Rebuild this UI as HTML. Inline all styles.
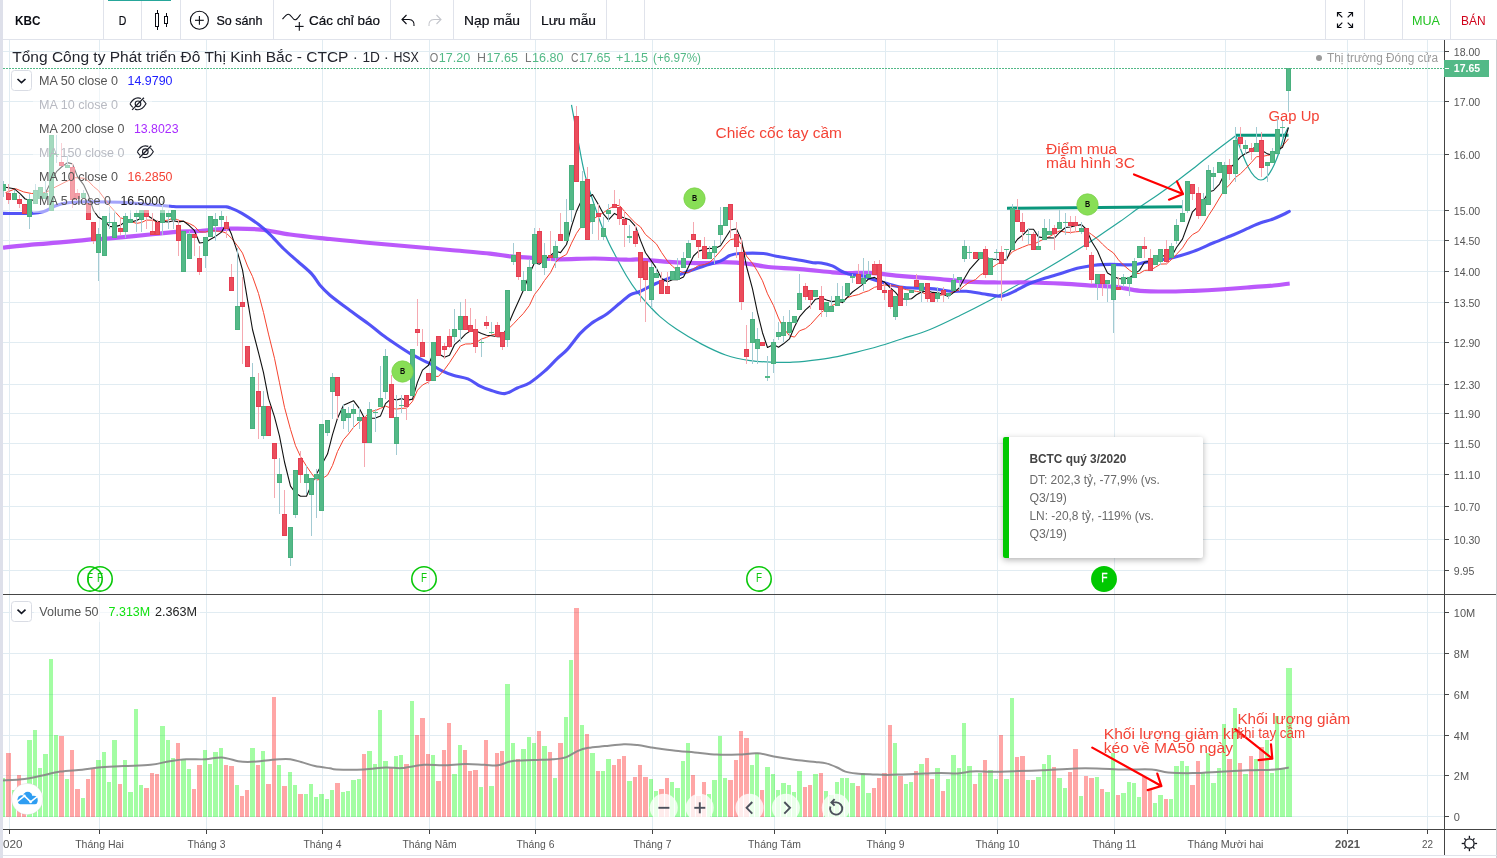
<!DOCTYPE html>
<html><head><meta charset="utf-8"><title>KBC</title>
<style>
html,body{margin:0;padding:0;background:#fff;}
body{width:1497px;height:858px;overflow:hidden;position:relative;font-family:"Liberation Sans",sans-serif;}
svg{position:absolute;left:0;top:0;font-family:"Liberation Sans",sans-serif;will-change:transform;}
.tip{position:absolute;left:1003px;top:437px;width:200px;height:121px;background:#fff;border-radius:2px;box-shadow:0 2px 6px rgba(0,0,0,.3);}
.tip i{position:absolute;left:0;top:0;bottom:0;width:6px;background:#00c800;border-radius:2px 0 0 2px;}
</style></head><body>
<svg width="1497" height="858" viewBox="0 0 1497 858">

<g stroke="#e1ecf2" stroke-width="1" shape-rendering="crispEdges">
<line x1="9.5" y1="40" x2="9.5" y2="594"/><line x1="9.5" y1="595" x2="9.5" y2="829"/>
<line x1="99.5" y1="40" x2="99.5" y2="594"/><line x1="99.5" y1="595" x2="99.5" y2="829"/>
<line x1="206.5" y1="40" x2="206.5" y2="594"/><line x1="206.5" y1="595" x2="206.5" y2="829"/>
<line x1="322.5" y1="40" x2="322.5" y2="594"/><line x1="322.5" y1="595" x2="322.5" y2="829"/>
<line x1="429.5" y1="40" x2="429.5" y2="594"/><line x1="429.5" y1="595" x2="429.5" y2="829"/>
<line x1="535.5" y1="40" x2="535.5" y2="594"/><line x1="535.5" y1="595" x2="535.5" y2="829"/>
<line x1="652.5" y1="40" x2="652.5" y2="594"/><line x1="652.5" y1="595" x2="652.5" y2="829"/>
<line x1="774.5" y1="40" x2="774.5" y2="594"/><line x1="774.5" y1="595" x2="774.5" y2="829"/>
<line x1="885.5" y1="40" x2="885.5" y2="594"/><line x1="885.5" y1="595" x2="885.5" y2="829"/>
<line x1="997.5" y1="40" x2="997.5" y2="594"/><line x1="997.5" y1="595" x2="997.5" y2="829"/>
<line x1="1114.5" y1="40" x2="1114.5" y2="594"/><line x1="1114.5" y1="595" x2="1114.5" y2="829"/>
<line x1="1225.5" y1="40" x2="1225.5" y2="594"/><line x1="1225.5" y1="595" x2="1225.5" y2="829"/>
<line x1="1347.5" y1="40" x2="1347.5" y2="594"/><line x1="1347.5" y1="595" x2="1347.5" y2="829"/>
<line x1="1427.5" y1="40" x2="1427.5" y2="594"/><line x1="1427.5" y1="595" x2="1427.5" y2="829"/>
<line x1="3" y1="51.5" x2="1444" y2="51.5"/>
<line x1="3" y1="101.5" x2="1444" y2="101.5"/>
<line x1="3" y1="154.5" x2="1444" y2="154.5"/>
<line x1="3" y1="210.5" x2="1444" y2="210.5"/>
<line x1="3" y1="240.5" x2="1444" y2="240.5"/>
<line x1="3" y1="271.5" x2="1444" y2="271.5"/>
<line x1="3" y1="302.5" x2="1444" y2="302.5"/>
<line x1="3" y1="342.5" x2="1444" y2="342.5"/>
<line x1="3" y1="384.5" x2="1444" y2="384.5"/>
<line x1="3" y1="413.5" x2="1444" y2="413.5"/>
<line x1="3" y1="443.5" x2="1444" y2="443.5"/>
<line x1="3" y1="474.5" x2="1444" y2="474.5"/>
<line x1="3" y1="506.5" x2="1444" y2="506.5"/>
<line x1="3" y1="539.5" x2="1444" y2="539.5"/>
<line x1="3" y1="570.5" x2="1444" y2="570.5"/>
<line x1="3" y1="612.5" x2="1444" y2="612.5"/>
<line x1="3" y1="653.5" x2="1444" y2="653.5"/>
<line x1="3" y1="694.5" x2="1444" y2="694.5"/>
<line x1="3" y1="735.5" x2="1444" y2="735.5"/>
<line x1="3" y1="775.5" x2="1444" y2="775.5"/>
<line x1="3" y1="816.5" x2="1444" y2="816.5"/>
</g>
<g shape-rendering="crispEdges">
<rect x="3" y="778.0" width="2" height="39.0" fill="rgb(0,250,0)" fill-opacity="0.36"/>
<rect x="6" y="753.0" width="5" height="64.0" fill="rgb(255,0,0)" fill-opacity="0.35"/>
<rect x="12" y="789.7" width="4" height="27.3" fill="rgb(0,250,0)" fill-opacity="0.36"/>
<rect x="17" y="774.9" width="4" height="42.1" fill="rgb(255,0,0)" fill-opacity="0.35"/>
<rect x="22" y="792.0" width="4" height="25.0" fill="rgb(255,0,0)" fill-opacity="0.35"/>
<rect x="27" y="740.1" width="5" height="76.9" fill="rgb(0,250,0)" fill-opacity="0.36"/>
<rect x="33" y="730.0" width="4" height="87.0" fill="rgb(0,250,0)" fill-opacity="0.36"/>
<rect x="38" y="768.0" width="4" height="49.0" fill="rgb(0,250,0)" fill-opacity="0.36"/>
<rect x="43" y="753.8" width="5" height="63.2" fill="rgb(0,250,0)" fill-opacity="0.36"/>
<rect x="49" y="658.8" width="4" height="158.2" fill="rgb(0,250,0)" fill-opacity="0.36"/>
<rect x="54" y="735.2" width="4" height="81.8" fill="rgb(0,250,0)" fill-opacity="0.36"/>
<rect x="59" y="736.0" width="5" height="81.0" fill="rgb(255,0,0)" fill-opacity="0.35"/>
<rect x="65" y="779.0" width="4" height="38.0" fill="rgb(0,250,0)" fill-opacity="0.36"/>
<rect x="70" y="750.0" width="4" height="67.0" fill="rgb(255,0,0)" fill-opacity="0.35"/>
<rect x="75" y="788.9" width="5" height="28.1" fill="rgb(255,0,0)" fill-opacity="0.35"/>
<rect x="81" y="797.6" width="4" height="19.4" fill="rgb(0,250,0)" fill-opacity="0.36"/>
<rect x="86" y="779.0" width="4" height="38.0" fill="rgb(255,0,0)" fill-opacity="0.35"/>
<rect x="91" y="768.9" width="4" height="48.1" fill="rgb(255,0,0)" fill-opacity="0.35"/>
<rect x="96" y="760.1" width="5" height="56.9" fill="rgb(0,250,0)" fill-opacity="0.36"/>
<rect x="102" y="751.9" width="4" height="65.1" fill="rgb(0,250,0)" fill-opacity="0.36"/>
<rect x="107" y="782.0" width="4" height="35.0" fill="rgb(0,250,0)" fill-opacity="0.36"/>
<rect x="112" y="740.1" width="5" height="76.9" fill="rgb(0,250,0)" fill-opacity="0.36"/>
<rect x="118" y="783.9" width="4" height="33.1" fill="rgb(255,0,0)" fill-opacity="0.35"/>
<rect x="123" y="760.1" width="4" height="56.9" fill="rgb(0,250,0)" fill-opacity="0.36"/>
<rect x="128" y="792.2" width="5" height="24.8" fill="rgb(0,250,0)" fill-opacity="0.36"/>
<rect x="134" y="708.9" width="4" height="108.1" fill="rgb(0,250,0)" fill-opacity="0.36"/>
<rect x="139" y="784.8" width="4" height="32.2" fill="rgb(0,250,0)" fill-opacity="0.36"/>
<rect x="144" y="788.0" width="5" height="29.0" fill="rgb(255,0,0)" fill-opacity="0.35"/>
<rect x="150" y="773.0" width="4" height="44.0" fill="rgb(255,0,0)" fill-opacity="0.35"/>
<rect x="155" y="773.8" width="4" height="43.2" fill="rgb(255,0,0)" fill-opacity="0.35"/>
<rect x="160" y="726.2" width="5" height="90.8" fill="rgb(0,250,0)" fill-opacity="0.36"/>
<rect x="166" y="740.1" width="4" height="76.9" fill="rgb(0,250,0)" fill-opacity="0.36"/>
<rect x="171" y="757.9" width="4" height="59.1" fill="rgb(0,250,0)" fill-opacity="0.36"/>
<rect x="176" y="743.1" width="4" height="73.9" fill="rgb(255,0,0)" fill-opacity="0.35"/>
<rect x="181" y="759.3" width="5" height="57.7" fill="rgb(0,250,0)" fill-opacity="0.36"/>
<rect x="187" y="768.9" width="4" height="48.1" fill="rgb(0,250,0)" fill-opacity="0.36"/>
<rect x="192" y="788.9" width="4" height="28.1" fill="rgb(255,0,0)" fill-opacity="0.35"/>
<rect x="197" y="765.0" width="5" height="52.0" fill="rgb(255,0,0)" fill-opacity="0.35"/>
<rect x="203" y="750.0" width="4" height="67.0" fill="rgb(0,250,0)" fill-opacity="0.36"/>
<rect x="208" y="764.0" width="4" height="53.0" fill="rgb(0,250,0)" fill-opacity="0.36"/>
<rect x="213" y="751.9" width="5" height="65.1" fill="rgb(0,250,0)" fill-opacity="0.36"/>
<rect x="219" y="748.1" width="4" height="68.9" fill="rgb(0,250,0)" fill-opacity="0.36"/>
<rect x="224" y="765.0" width="4" height="52.0" fill="rgb(255,0,0)" fill-opacity="0.35"/>
<rect x="229" y="766.1" width="5" height="50.9" fill="rgb(255,0,0)" fill-opacity="0.35"/>
<rect x="235" y="784.8" width="4" height="32.2" fill="rgb(0,250,0)" fill-opacity="0.36"/>
<rect x="240" y="796.0" width="4" height="21.0" fill="rgb(255,0,0)" fill-opacity="0.35"/>
<rect x="245" y="790.0" width="4" height="27.0" fill="rgb(255,0,0)" fill-opacity="0.35"/>
<rect x="250" y="748.1" width="5" height="68.9" fill="rgb(0,250,0)" fill-opacity="0.36"/>
<rect x="256" y="765.0" width="4" height="52.0" fill="rgb(255,0,0)" fill-opacity="0.35"/>
<rect x="261" y="751.1" width="4" height="65.9" fill="rgb(0,250,0)" fill-opacity="0.36"/>
<rect x="266" y="783.9" width="5" height="33.1" fill="rgb(255,0,0)" fill-opacity="0.35"/>
<rect x="272" y="696.9" width="4" height="120.1" fill="rgb(255,0,0)" fill-opacity="0.35"/>
<rect x="277" y="765.0" width="4" height="52.0" fill="rgb(0,250,0)" fill-opacity="0.36"/>
<rect x="282" y="785.9" width="5" height="31.1" fill="rgb(255,0,0)" fill-opacity="0.35"/>
<rect x="288" y="772.2" width="4" height="44.8" fill="rgb(0,250,0)" fill-opacity="0.36"/>
<rect x="293" y="784.8" width="4" height="32.2" fill="rgb(0,250,0)" fill-opacity="0.36"/>
<rect x="298" y="794.1" width="5" height="22.9" fill="rgb(255,0,0)" fill-opacity="0.35"/>
<rect x="304" y="794.1" width="4" height="22.9" fill="rgb(0,250,0)" fill-opacity="0.36"/>
<rect x="309" y="783.9" width="4" height="33.1" fill="rgb(0,250,0)" fill-opacity="0.36"/>
<rect x="314" y="797.1" width="4" height="19.9" fill="rgb(0,250,0)" fill-opacity="0.36"/>
<rect x="319" y="794.1" width="5" height="22.9" fill="rgb(0,250,0)" fill-opacity="0.36"/>
<rect x="325" y="799.0" width="4" height="18.0" fill="rgb(0,250,0)" fill-opacity="0.36"/>
<rect x="330" y="790.0" width="4" height="27.0" fill="rgb(0,250,0)" fill-opacity="0.36"/>
<rect x="335" y="782.8" width="5" height="34.2" fill="rgb(255,0,0)" fill-opacity="0.35"/>
<rect x="341" y="792.2" width="4" height="24.8" fill="rgb(0,250,0)" fill-opacity="0.36"/>
<rect x="346" y="791.1" width="4" height="25.9" fill="rgb(0,250,0)" fill-opacity="0.36"/>
<rect x="351" y="780.1" width="5" height="36.9" fill="rgb(0,250,0)" fill-opacity="0.36"/>
<rect x="357" y="779.0" width="4" height="38.0" fill="rgb(0,250,0)" fill-opacity="0.36"/>
<rect x="362" y="753.8" width="4" height="63.2" fill="rgb(255,0,0)" fill-opacity="0.35"/>
<rect x="367" y="751.1" width="5" height="65.9" fill="rgb(0,250,0)" fill-opacity="0.36"/>
<rect x="373" y="764.2" width="4" height="52.8" fill="rgb(0,250,0)" fill-opacity="0.36"/>
<rect x="378" y="710.0" width="4" height="107.0" fill="rgb(0,250,0)" fill-opacity="0.36"/>
<rect x="383" y="760.9" width="5" height="56.1" fill="rgb(0,250,0)" fill-opacity="0.36"/>
<rect x="389" y="768.0" width="4" height="49.0" fill="rgb(255,0,0)" fill-opacity="0.35"/>
<rect x="394" y="756.0" width="4" height="61.0" fill="rgb(0,250,0)" fill-opacity="0.36"/>
<rect x="399" y="754.9" width="4" height="62.1" fill="rgb(0,250,0)" fill-opacity="0.36"/>
<rect x="404" y="764.2" width="5" height="52.8" fill="rgb(255,0,0)" fill-opacity="0.35"/>
<rect x="410" y="701.0" width="4" height="116.0" fill="rgb(0,250,0)" fill-opacity="0.36"/>
<rect x="415" y="735.2" width="4" height="81.8" fill="rgb(255,0,0)" fill-opacity="0.35"/>
<rect x="420" y="717.9" width="5" height="99.1" fill="rgb(255,0,0)" fill-opacity="0.35"/>
<rect x="426" y="753.8" width="4" height="63.2" fill="rgb(255,0,0)" fill-opacity="0.35"/>
<rect x="431" y="755.2" width="4" height="61.8" fill="rgb(0,250,0)" fill-opacity="0.36"/>
<rect x="436" y="781.2" width="5" height="35.8" fill="rgb(255,0,0)" fill-opacity="0.35"/>
<rect x="442" y="750.0" width="4" height="67.0" fill="rgb(255,0,0)" fill-opacity="0.35"/>
<rect x="447" y="722.9" width="4" height="94.1" fill="rgb(255,0,0)" fill-opacity="0.35"/>
<rect x="452" y="773.8" width="5" height="43.2" fill="rgb(0,250,0)" fill-opacity="0.36"/>
<rect x="458" y="745.0" width="4" height="72.0" fill="rgb(0,250,0)" fill-opacity="0.36"/>
<rect x="463" y="750.0" width="4" height="67.0" fill="rgb(255,0,0)" fill-opacity="0.35"/>
<rect x="468" y="771.1" width="4" height="45.9" fill="rgb(255,0,0)" fill-opacity="0.35"/>
<rect x="473" y="770.2" width="5" height="46.8" fill="rgb(255,0,0)" fill-opacity="0.35"/>
<rect x="479" y="787.0" width="4" height="30.0" fill="rgb(0,250,0)" fill-opacity="0.36"/>
<rect x="484" y="740.1" width="4" height="76.9" fill="rgb(255,0,0)" fill-opacity="0.35"/>
<rect x="489" y="786.1" width="5" height="30.9" fill="rgb(0,250,0)" fill-opacity="0.36"/>
<rect x="495" y="753.0" width="4" height="64.0" fill="rgb(255,0,0)" fill-opacity="0.35"/>
<rect x="500" y="751.1" width="4" height="65.9" fill="rgb(255,0,0)" fill-opacity="0.35"/>
<rect x="505" y="684.0" width="5" height="133.0" fill="rgb(0,250,0)" fill-opacity="0.36"/>
<rect x="511" y="743.1" width="4" height="73.9" fill="rgb(0,250,0)" fill-opacity="0.36"/>
<rect x="516" y="759.0" width="4" height="58.0" fill="rgb(255,0,0)" fill-opacity="0.35"/>
<rect x="521" y="749.2" width="5" height="67.8" fill="rgb(0,250,0)" fill-opacity="0.36"/>
<rect x="527" y="737.1" width="4" height="79.9" fill="rgb(0,250,0)" fill-opacity="0.36"/>
<rect x="532" y="743.1" width="4" height="73.9" fill="rgb(0,250,0)" fill-opacity="0.36"/>
<rect x="537" y="731.1" width="4" height="85.9" fill="rgb(255,0,0)" fill-opacity="0.35"/>
<rect x="542" y="746.1" width="5" height="70.9" fill="rgb(0,250,0)" fill-opacity="0.36"/>
<rect x="548" y="751.9" width="4" height="65.1" fill="rgb(255,0,0)" fill-opacity="0.35"/>
<rect x="553" y="777.9" width="4" height="39.1" fill="rgb(0,250,0)" fill-opacity="0.36"/>
<rect x="558" y="743.1" width="5" height="73.9" fill="rgb(255,0,0)" fill-opacity="0.35"/>
<rect x="564" y="717.1" width="4" height="99.9" fill="rgb(0,250,0)" fill-opacity="0.36"/>
<rect x="569" y="659.9" width="4" height="157.1" fill="rgb(0,250,0)" fill-opacity="0.36"/>
<rect x="574" y="607.9" width="5" height="209.1" fill="rgb(255,0,0)" fill-opacity="0.35"/>
<rect x="580" y="725.1" width="4" height="91.9" fill="rgb(0,250,0)" fill-opacity="0.36"/>
<rect x="585" y="734.1" width="4" height="82.9" fill="rgb(255,0,0)" fill-opacity="0.35"/>
<rect x="590" y="753.0" width="5" height="64.0" fill="rgb(0,250,0)" fill-opacity="0.36"/>
<rect x="596" y="771.1" width="4" height="45.9" fill="rgb(255,0,0)" fill-opacity="0.35"/>
<rect x="601" y="771.1" width="4" height="45.9" fill="rgb(0,250,0)" fill-opacity="0.36"/>
<rect x="606" y="759.0" width="5" height="58.0" fill="rgb(0,250,0)" fill-opacity="0.36"/>
<rect x="612" y="765.0" width="4" height="52.0" fill="rgb(255,0,0)" fill-opacity="0.35"/>
<rect x="617" y="759.0" width="4" height="58.0" fill="rgb(255,0,0)" fill-opacity="0.35"/>
<rect x="622" y="756.0" width="4" height="61.0" fill="rgb(255,0,0)" fill-opacity="0.35"/>
<rect x="627" y="781.2" width="5" height="35.8" fill="rgb(0,250,0)" fill-opacity="0.36"/>
<rect x="633" y="777.1" width="4" height="39.9" fill="rgb(255,0,0)" fill-opacity="0.35"/>
<rect x="638" y="765.0" width="4" height="52.0" fill="rgb(255,0,0)" fill-opacity="0.35"/>
<rect x="643" y="777.1" width="5" height="39.9" fill="rgb(255,0,0)" fill-opacity="0.35"/>
<rect x="649" y="779.0" width="4" height="38.0" fill="rgb(0,250,0)" fill-opacity="0.36"/>
<rect x="654" y="791.1" width="4" height="25.9" fill="rgb(0,250,0)" fill-opacity="0.36"/>
<rect x="659" y="788.9" width="5" height="28.1" fill="rgb(255,0,0)" fill-opacity="0.35"/>
<rect x="665" y="777.9" width="4" height="39.1" fill="rgb(255,0,0)" fill-opacity="0.35"/>
<rect x="670" y="782.0" width="4" height="35.0" fill="rgb(0,250,0)" fill-opacity="0.36"/>
<rect x="675" y="788.0" width="5" height="29.0" fill="rgb(0,250,0)" fill-opacity="0.36"/>
<rect x="681" y="760.9" width="4" height="56.1" fill="rgb(0,250,0)" fill-opacity="0.36"/>
<rect x="686" y="743.1" width="4" height="73.9" fill="rgb(0,250,0)" fill-opacity="0.36"/>
<rect x="691" y="774.9" width="4" height="42.1" fill="rgb(255,0,0)" fill-opacity="0.35"/>
<rect x="696" y="796.0" width="5" height="21.0" fill="rgb(255,0,0)" fill-opacity="0.35"/>
<rect x="702" y="782.0" width="4" height="35.0" fill="rgb(255,0,0)" fill-opacity="0.35"/>
<rect x="707" y="794.1" width="4" height="22.9" fill="rgb(0,250,0)" fill-opacity="0.36"/>
<rect x="712" y="780.1" width="5" height="36.9" fill="rgb(0,250,0)" fill-opacity="0.36"/>
<rect x="718" y="736.0" width="4" height="81.0" fill="rgb(0,250,0)" fill-opacity="0.36"/>
<rect x="723" y="777.9" width="4" height="39.1" fill="rgb(0,250,0)" fill-opacity="0.36"/>
<rect x="728" y="780.1" width="5" height="36.9" fill="rgb(255,0,0)" fill-opacity="0.35"/>
<rect x="734" y="760.1" width="4" height="56.9" fill="rgb(255,0,0)" fill-opacity="0.35"/>
<rect x="739" y="731.1" width="4" height="85.9" fill="rgb(255,0,0)" fill-opacity="0.35"/>
<rect x="744" y="738.2" width="5" height="78.8" fill="rgb(255,0,0)" fill-opacity="0.35"/>
<rect x="750" y="765.0" width="4" height="52.0" fill="rgb(0,250,0)" fill-opacity="0.36"/>
<rect x="755" y="753.0" width="4" height="64.0" fill="rgb(0,250,0)" fill-opacity="0.36"/>
<rect x="760" y="790.0" width="4" height="27.0" fill="rgb(255,0,0)" fill-opacity="0.35"/>
<rect x="765" y="767.0" width="5" height="50.0" fill="rgb(0,250,0)" fill-opacity="0.36"/>
<rect x="771" y="774.1" width="4" height="42.9" fill="rgb(0,250,0)" fill-opacity="0.36"/>
<rect x="776" y="790.0" width="4" height="27.0" fill="rgb(0,250,0)" fill-opacity="0.36"/>
<rect x="781" y="782.8" width="5" height="34.2" fill="rgb(0,250,0)" fill-opacity="0.36"/>
<rect x="787" y="785.0" width="4" height="32.0" fill="rgb(0,250,0)" fill-opacity="0.36"/>
<rect x="792" y="792.2" width="4" height="24.8" fill="rgb(0,250,0)" fill-opacity="0.36"/>
<rect x="797" y="771.1" width="5" height="45.9" fill="rgb(0,250,0)" fill-opacity="0.36"/>
<rect x="803" y="787.0" width="4" height="30.0" fill="rgb(255,0,0)" fill-opacity="0.35"/>
<rect x="808" y="785.0" width="4" height="32.0" fill="rgb(255,0,0)" fill-opacity="0.35"/>
<rect x="813" y="774.1" width="5" height="42.9" fill="rgb(0,250,0)" fill-opacity="0.36"/>
<rect x="819" y="773.0" width="4" height="44.0" fill="rgb(255,0,0)" fill-opacity="0.35"/>
<rect x="824" y="791.1" width="4" height="25.9" fill="rgb(0,250,0)" fill-opacity="0.36"/>
<rect x="829" y="795.0" width="5" height="22.0" fill="rgb(0,250,0)" fill-opacity="0.36"/>
<rect x="835" y="782.0" width="4" height="35.0" fill="rgb(0,250,0)" fill-opacity="0.36"/>
<rect x="840" y="777.9" width="4" height="39.1" fill="rgb(0,250,0)" fill-opacity="0.36"/>
<rect x="845" y="777.9" width="4" height="39.1" fill="rgb(0,250,0)" fill-opacity="0.36"/>
<rect x="850" y="782.8" width="5" height="34.2" fill="rgb(0,250,0)" fill-opacity="0.36"/>
<rect x="856" y="786.1" width="4" height="30.9" fill="rgb(255,0,0)" fill-opacity="0.35"/>
<rect x="861" y="773.0" width="4" height="44.0" fill="rgb(0,250,0)" fill-opacity="0.36"/>
<rect x="866" y="793.0" width="5" height="24.0" fill="rgb(0,250,0)" fill-opacity="0.36"/>
<rect x="872" y="788.0" width="4" height="29.0" fill="rgb(255,0,0)" fill-opacity="0.35"/>
<rect x="877" y="777.9" width="4" height="39.1" fill="rgb(255,0,0)" fill-opacity="0.35"/>
<rect x="882" y="773.0" width="5" height="44.0" fill="rgb(255,0,0)" fill-opacity="0.35"/>
<rect x="888" y="725.1" width="4" height="91.9" fill="rgb(255,0,0)" fill-opacity="0.35"/>
<rect x="893" y="743.1" width="4" height="73.9" fill="rgb(0,250,0)" fill-opacity="0.36"/>
<rect x="898" y="776.0" width="5" height="41.0" fill="rgb(255,0,0)" fill-opacity="0.35"/>
<rect x="904" y="783.9" width="4" height="33.1" fill="rgb(0,250,0)" fill-opacity="0.36"/>
<rect x="909" y="782.0" width="4" height="35.0" fill="rgb(0,250,0)" fill-opacity="0.36"/>
<rect x="914" y="771.1" width="4" height="45.9" fill="rgb(255,0,0)" fill-opacity="0.35"/>
<rect x="919" y="764.0" width="5" height="53.0" fill="rgb(0,250,0)" fill-opacity="0.36"/>
<rect x="925" y="757.9" width="4" height="59.1" fill="rgb(255,0,0)" fill-opacity="0.35"/>
<rect x="930" y="779.0" width="4" height="38.0" fill="rgb(255,0,0)" fill-opacity="0.35"/>
<rect x="935" y="768.0" width="5" height="49.0" fill="rgb(0,250,0)" fill-opacity="0.36"/>
<rect x="941" y="791.1" width="4" height="25.9" fill="rgb(255,0,0)" fill-opacity="0.35"/>
<rect x="946" y="779.0" width="4" height="38.0" fill="rgb(0,250,0)" fill-opacity="0.36"/>
<rect x="951" y="754.9" width="5" height="62.1" fill="rgb(0,250,0)" fill-opacity="0.36"/>
<rect x="957" y="768.0" width="4" height="49.0" fill="rgb(0,250,0)" fill-opacity="0.36"/>
<rect x="962" y="722.9" width="4" height="94.1" fill="rgb(0,250,0)" fill-opacity="0.36"/>
<rect x="967" y="766.1" width="5" height="50.9" fill="rgb(0,250,0)" fill-opacity="0.36"/>
<rect x="973" y="784.0" width="4" height="33.0" fill="rgb(255,0,0)" fill-opacity="0.35"/>
<rect x="978" y="773.1" width="4" height="43.9" fill="rgb(0,250,0)" fill-opacity="0.36"/>
<rect x="983" y="760.2" width="4" height="56.8" fill="rgb(255,0,0)" fill-opacity="0.35"/>
<rect x="988" y="770.3" width="5" height="46.7" fill="rgb(0,250,0)" fill-opacity="0.36"/>
<rect x="994" y="779.1" width="4" height="37.9" fill="rgb(0,250,0)" fill-opacity="0.36"/>
<rect x="999" y="735.3" width="4" height="81.7" fill="rgb(255,0,0)" fill-opacity="0.35"/>
<rect x="1004" y="779.1" width="5" height="37.9" fill="rgb(0,250,0)" fill-opacity="0.36"/>
<rect x="1010" y="698.0" width="4" height="119.0" fill="rgb(0,250,0)" fill-opacity="0.36"/>
<rect x="1015" y="757.2" width="4" height="59.8" fill="rgb(255,0,0)" fill-opacity="0.35"/>
<rect x="1020" y="756.1" width="5" height="60.9" fill="rgb(255,0,0)" fill-opacity="0.35"/>
<rect x="1026" y="780.2" width="4" height="36.8" fill="rgb(0,250,0)" fill-opacity="0.36"/>
<rect x="1031" y="780.2" width="4" height="36.8" fill="rgb(255,0,0)" fill-opacity="0.35"/>
<rect x="1036" y="777.2" width="5" height="39.8" fill="rgb(0,250,0)" fill-opacity="0.36"/>
<rect x="1042" y="764.0" width="4" height="53.0" fill="rgb(0,250,0)" fill-opacity="0.36"/>
<rect x="1047" y="755.0" width="4" height="62.0" fill="rgb(0,250,0)" fill-opacity="0.36"/>
<rect x="1052" y="767.1" width="4" height="49.9" fill="rgb(255,0,0)" fill-opacity="0.35"/>
<rect x="1057" y="778.0" width="5" height="39.0" fill="rgb(0,250,0)" fill-opacity="0.36"/>
<rect x="1063" y="788.2" width="4" height="28.8" fill="rgb(0,250,0)" fill-opacity="0.36"/>
<rect x="1068" y="772.3" width="4" height="44.7" fill="rgb(255,0,0)" fill-opacity="0.35"/>
<rect x="1073" y="749.2" width="5" height="67.8" fill="rgb(255,0,0)" fill-opacity="0.35"/>
<rect x="1079" y="796.1" width="4" height="20.9" fill="rgb(0,250,0)" fill-opacity="0.36"/>
<rect x="1084" y="776.1" width="4" height="40.9" fill="rgb(255,0,0)" fill-opacity="0.35"/>
<rect x="1089" y="778.0" width="5" height="39.0" fill="rgb(255,0,0)" fill-opacity="0.35"/>
<rect x="1095" y="777.2" width="4" height="39.8" fill="rgb(0,250,0)" fill-opacity="0.36"/>
<rect x="1100" y="789.2" width="4" height="27.8" fill="rgb(255,0,0)" fill-opacity="0.35"/>
<rect x="1105" y="792.3" width="5" height="24.7" fill="rgb(0,250,0)" fill-opacity="0.36"/>
<rect x="1111" y="753.1" width="4" height="63.9" fill="rgb(0,250,0)" fill-opacity="0.36"/>
<rect x="1116" y="795.0" width="4" height="22.0" fill="rgb(255,0,0)" fill-opacity="0.35"/>
<rect x="1121" y="793.1" width="5" height="23.9" fill="rgb(0,250,0)" fill-opacity="0.36"/>
<rect x="1127" y="782.1" width="4" height="34.9" fill="rgb(0,250,0)" fill-opacity="0.36"/>
<rect x="1132" y="782.9" width="4" height="34.1" fill="rgb(0,250,0)" fill-opacity="0.36"/>
<rect x="1137" y="797.2" width="4" height="19.8" fill="rgb(0,250,0)" fill-opacity="0.36"/>
<rect x="1142" y="777.2" width="5" height="39.8" fill="rgb(255,0,0)" fill-opacity="0.35"/>
<rect x="1148" y="790.1" width="4" height="26.9" fill="rgb(255,0,0)" fill-opacity="0.35"/>
<rect x="1153" y="803.2" width="4" height="13.8" fill="rgb(0,250,0)" fill-opacity="0.36"/>
<rect x="1158" y="795.0" width="5" height="22.0" fill="rgb(0,250,0)" fill-opacity="0.36"/>
<rect x="1164" y="799.1" width="4" height="17.9" fill="rgb(255,0,0)" fill-opacity="0.35"/>
<rect x="1169" y="799.1" width="4" height="17.9" fill="rgb(0,250,0)" fill-opacity="0.36"/>
<rect x="1174" y="766.2" width="5" height="50.8" fill="rgb(0,250,0)" fill-opacity="0.36"/>
<rect x="1180" y="761.0" width="4" height="56.0" fill="rgb(0,250,0)" fill-opacity="0.36"/>
<rect x="1185" y="766.2" width="4" height="50.8" fill="rgb(0,250,0)" fill-opacity="0.36"/>
<rect x="1190" y="785.1" width="5" height="31.9" fill="rgb(255,0,0)" fill-opacity="0.35"/>
<rect x="1196" y="761.0" width="4" height="56.0" fill="rgb(255,0,0)" fill-opacity="0.35"/>
<rect x="1201" y="773.1" width="4" height="43.9" fill="rgb(0,250,0)" fill-opacity="0.36"/>
<rect x="1206" y="753.1" width="4" height="63.9" fill="rgb(0,250,0)" fill-opacity="0.36"/>
<rect x="1211" y="782.9" width="5" height="34.1" fill="rgb(0,250,0)" fill-opacity="0.36"/>
<rect x="1217" y="768.2" width="4" height="48.8" fill="rgb(0,250,0)" fill-opacity="0.36"/>
<rect x="1222" y="724.0" width="4" height="93.0" fill="rgb(0,250,0)" fill-opacity="0.36"/>
<rect x="1227" y="759.1" width="5" height="57.9" fill="rgb(255,0,0)" fill-opacity="0.35"/>
<rect x="1233" y="707.9" width="4" height="109.1" fill="rgb(0,250,0)" fill-opacity="0.36"/>
<rect x="1238" y="763.2" width="4" height="53.8" fill="rgb(255,0,0)" fill-opacity="0.35"/>
<rect x="1243" y="774.2" width="5" height="42.8" fill="rgb(0,250,0)" fill-opacity="0.36"/>
<rect x="1249" y="756.1" width="4" height="60.9" fill="rgb(255,0,0)" fill-opacity="0.35"/>
<rect x="1254" y="759.1" width="4" height="57.9" fill="rgb(0,250,0)" fill-opacity="0.36"/>
<rect x="1259" y="747.3" width="5" height="69.7" fill="rgb(255,0,0)" fill-opacity="0.35"/>
<rect x="1265" y="740.2" width="4" height="76.8" fill="rgb(0,250,0)" fill-opacity="0.36"/>
<rect x="1270" y="773.1" width="4" height="43.9" fill="rgb(0,250,0)" fill-opacity="0.36"/>
<rect x="1275" y="716.1" width="4" height="100.9" fill="rgb(0,250,0)" fill-opacity="0.36"/>
<rect x="1280" y="768.2" width="5" height="48.8" fill="rgb(0,250,0)" fill-opacity="0.36"/>
<rect x="1286" y="667.9" width="6" height="149.1" fill="rgb(0,250,0)" fill-opacity="0.36"/>
</g>
<path d="M2.7,780.4 C6.4,780.2 18.2,779.8 24.6,779.0 C31.0,778.2 35.1,776.9 41.0,775.7 C46.9,774.5 53.4,772.6 60.2,771.6 C67.0,770.6 75.7,770.4 82.1,769.7 C88.5,769.0 91.8,768.1 98.6,767.5 C105.4,766.9 114.5,766.6 123.2,766.1 C131.9,765.6 142.8,765.6 150.6,764.8 C158.4,764.0 163.9,762.1 169.8,761.2 C175.7,760.3 180.3,759.6 186.2,759.3 C192.1,759.0 199.5,759.6 205.4,759.3 C211.3,759.0 216.3,757.1 221.8,757.4 C227.3,757.7 233.9,760.4 238.2,761.2 C242.5,762.0 244.2,762.0 247.8,762.0 C251.5,762.0 254.9,761.7 260.1,761.2 C265.4,760.8 274.3,759.6 279.3,759.3 C284.3,759.0 286.7,758.8 290.3,759.3 C293.9,759.8 297.1,760.9 301.2,762.0 C305.3,763.1 310.1,765.1 314.9,766.1 C319.7,767.1 326.4,767.8 330.0,768.3 C333.6,768.8 330.8,769.2 336.4,769.4 C342.0,769.6 355.6,769.7 363.8,769.4 C372.0,769.1 379.3,767.7 385.7,767.5 C392.1,767.3 395.7,768.6 402.1,768.1 C408.5,767.6 417.2,765.3 424.1,764.8 C431.0,764.3 436.4,765.4 443.2,765.3 C450.0,765.2 458.2,764.1 465.1,764.0 C472.0,763.9 478.8,764.6 484.3,764.8 C489.8,765.0 493.4,765.9 498.0,765.3 C502.6,764.7 505.8,762.1 511.7,761.2 C517.6,760.3 526.8,760.4 533.6,760.1 C540.4,759.8 547.2,759.8 552.7,759.3 C558.2,758.8 562.3,758.5 566.4,757.1 C570.5,755.7 573.8,752.7 577.4,751.1 C581.0,749.5 583.7,748.6 588.3,747.8 C592.9,747.0 598.9,746.7 604.8,746.1 C610.7,745.5 618.4,744.4 623.9,744.2 C629.4,744.0 633.2,744.5 637.6,745.0 C642.0,745.5 646.9,746.7 650.0,747.2 C653.1,747.8 651.7,747.6 656.4,748.3 C661.1,748.9 671.9,750.4 678.3,751.1 C684.7,751.8 688.4,751.8 694.8,752.4 C701.2,753.0 709.4,754.2 716.7,754.6 C724.0,755.0 731.8,754.8 738.6,754.6 C745.4,754.4 751.3,752.9 757.7,753.3 C764.1,753.7 770.5,756.0 776.9,757.1 C783.3,758.2 789.7,759.3 796.1,760.1 C802.5,760.9 810.3,761.5 815.3,762.0 C820.3,762.5 822.6,762.5 826.2,763.4 C829.9,764.3 834.0,766.1 837.2,767.5 C840.4,768.9 842.2,770.6 845.4,771.6 C848.6,772.6 851.8,773.0 856.3,773.5 C860.8,774.0 867.7,774.2 872.7,774.4 C877.7,774.6 881.4,774.9 886.4,774.9 C891.4,774.9 896.5,774.6 902.9,774.4 C909.3,774.2 918.4,773.7 924.8,773.5 C931.2,773.3 935.7,773.0 941.2,773.0 C946.7,773.0 952.8,773.7 957.6,773.5 C962.4,773.3 966.9,772.0 970.0,771.6 C973.1,771.2 972.1,771.2 976.4,771.2 C980.7,771.2 989.2,771.7 995.6,771.7 C1002.0,771.7 1007.0,771.4 1014.8,771.2 C1022.6,771.0 1032.2,770.8 1042.2,770.3 C1052.2,769.8 1066.0,768.7 1075.1,768.4 C1084.2,768.1 1088.8,768.2 1097.0,768.4 C1105.2,768.6 1115.3,769.3 1124.4,769.5 C1133.5,769.7 1144.5,769.0 1151.8,769.5 C1159.1,770.0 1161.3,771.9 1168.2,772.5 C1175.1,773.1 1184.2,773.2 1192.9,773.1 C1201.6,773.0 1211.2,772.2 1220.3,771.7 C1229.4,771.2 1238.6,770.7 1247.7,770.3 C1256.8,769.9 1268.2,770.0 1275.1,769.5 C1281.9,769.0 1286.5,767.9 1288.8,767.6" fill="none" stroke="#858585" stroke-width="2" stroke-opacity="0.9"/>
<path d="M571.5,104.8 C572.6,110.7 575.7,128.2 578.0,140.0 C580.3,151.8 581.8,162.8 585.2,175.7 C588.6,188.6 594.8,206.6 598.5,217.3 C602.2,228.0 604.6,233.4 607.5,240.0 C610.4,246.6 612.9,250.9 616.0,256.8 C619.1,262.8 622.9,269.9 626.4,275.7 C629.9,281.5 633.0,286.3 636.9,291.4 C640.8,296.5 645.6,301.9 649.5,306.1 C653.4,310.3 655.5,312.7 660.0,316.6 C664.5,320.5 669.8,324.8 676.7,329.3 C683.6,333.9 693.1,339.6 701.2,343.9 C709.4,348.2 717.5,352.2 725.6,355.0 C733.8,357.8 741.9,359.4 750.1,360.6 C758.3,361.8 768.0,362.0 774.6,362.3 C781.2,362.6 785.0,362.5 790.0,362.3 C795.0,362.1 798.0,362.1 804.5,361.4 C811.0,360.7 820.9,359.6 829.0,358.2 C837.1,356.8 845.2,354.8 853.4,352.9 C861.5,350.9 869.8,348.9 877.9,346.5 C886.0,344.1 893.6,341.5 902.3,338.7 C911.0,335.9 920.4,333.4 930.0,329.5 C939.6,325.6 950.0,320.4 960.0,315.5 C970.0,310.6 980.0,305.5 990.0,300.2 C1000.0,294.9 1010.0,289.1 1020.0,283.5 C1030.0,277.9 1039.3,272.8 1050.0,266.5 C1060.7,260.2 1075.7,251.0 1084.0,245.8 C1092.3,240.6 1094.0,239.2 1100.0,235.2 C1106.0,231.2 1113.3,226.3 1120.0,221.6 C1126.7,216.9 1133.7,211.5 1140.0,207.0 C1146.3,202.5 1151.6,199.3 1158.0,194.8 C1164.4,190.3 1173.0,184.0 1178.3,180.0 C1183.6,176.0 1184.7,175.1 1190.0,171.0 C1195.3,166.9 1202.3,161.2 1210.0,155.3 C1217.7,149.4 1231.7,138.7 1236.0,135.4" fill="none" stroke="#26a69a" stroke-width="1.2"/>
<line x1="1007" y1="208.2" x2="1182" y2="206.8" stroke="#0a977c" stroke-width="3"/>
<line x1="1235.5" y1="135.3" x2="1288.5" y2="135.3" stroke="#0a977c" stroke-width="3"/>
<path d="M1236,136 C1244,160 1252,180 1261,180 C1270,180 1279,155 1283.5,137 L1288,127.5" fill="none" stroke="#26a69a" stroke-width="1.2"/>
<path d="M3.0,247.7 C7.8,247.2 21.5,245.5 31.5,244.6 C41.5,243.7 53.7,243.0 62.9,242.2 C72.1,241.4 78.7,240.6 86.5,239.9 C94.3,239.2 99.4,239.2 110.0,238.3 C120.6,237.4 138.3,235.6 150.0,234.5 C161.7,233.4 171.7,232.2 180.0,231.6 C188.3,231.0 191.8,231.5 200.0,231.0 C208.2,230.5 218.9,228.9 229.0,228.7 C239.1,228.5 250.5,228.6 260.7,229.6 C270.9,230.6 278.4,232.9 290.0,234.5 C301.6,236.1 316.7,237.6 330.0,239.0 C343.3,240.4 356.7,241.8 370.0,243.0 C383.3,244.2 396.7,245.3 410.0,246.5 C423.3,247.7 436.7,248.8 450.0,250.0 C463.3,251.2 479.8,252.5 490.0,253.6 C500.2,254.7 504.0,255.7 511.0,256.4 C518.0,257.1 524.0,257.3 532.0,257.8 C540.0,258.3 548.5,259.2 559.0,259.3 C569.5,259.4 583.8,258.4 595.0,258.5 C606.2,258.6 618.9,259.5 626.4,259.7 C633.9,259.9 632.4,259.1 640.0,259.5 C647.6,259.9 661.3,261.6 672.0,262.2 C682.7,262.8 696.1,263.2 704.1,263.2 C712.1,263.2 714.9,262.3 720.2,262.2 C725.6,262.1 730.9,262.3 736.2,262.7 C741.5,263.1 746.9,263.6 752.2,264.3 C757.6,265.0 760.3,266.2 768.3,267.0 C776.3,267.8 789.6,268.2 800.3,269.1 C811.0,270.0 824.4,271.6 832.4,272.3 C840.4,273.0 842.1,273.0 848.4,273.1 C854.7,273.2 861.0,272.4 870.0,272.9 C879.0,273.4 891.4,275.2 902.1,276.1 C912.8,277.0 923.4,277.6 934.1,278.5 C944.8,279.4 955.5,281.0 966.2,281.7 C976.9,282.4 987.6,282.4 998.3,282.5 C1009.0,282.6 1019.6,282.3 1030.3,282.5 C1041.0,282.7 1051.7,283.1 1062.4,283.6 C1073.1,284.1 1086.6,285.2 1094.5,285.7 C1102.4,286.2 1105.8,286.2 1110.0,286.5 C1114.2,286.8 1115.0,286.8 1120.0,287.5 C1125.0,288.2 1132.3,290.1 1140.1,290.8 C1147.9,291.5 1157.9,291.5 1166.8,291.5 C1175.7,291.5 1184.6,291.1 1193.5,290.8 C1202.4,290.5 1211.3,290.1 1220.2,289.5 C1229.1,288.9 1238.1,288.2 1247.0,287.5 C1255.9,286.8 1266.6,286.2 1273.7,285.5 C1280.8,284.8 1287.0,283.8 1289.7,283.5" fill="none" stroke="#b750fb" stroke-width="4.2" stroke-linecap="butt" stroke-opacity="0.95"/>
<path d="M3.0,213.4 C7.8,213.4 24.7,213.7 31.5,213.4 C38.3,213.1 40.1,212.7 44.0,211.5 C47.9,210.3 51.3,207.4 55.0,206.0 C58.7,204.6 60.8,203.7 66.0,203.0 C71.2,202.3 77.5,201.9 86.5,201.8 C95.5,201.7 109.4,201.9 120.0,202.3 C130.6,202.8 141.6,203.8 150.0,204.5 C158.4,205.2 165.5,205.8 170.5,206.2 C175.5,206.6 172.6,206.7 180.0,206.8 C187.4,206.9 207.4,206.7 215.0,206.7 C222.6,206.7 223.0,206.6 225.5,206.8 C228.0,207.0 227.2,206.7 230.0,207.8 C232.8,208.9 237.2,210.5 242.0,213.3 C246.8,216.1 254.0,221.0 258.7,224.5 C263.3,228.0 265.7,230.2 269.9,234.3 C274.1,238.4 279.2,244.5 283.9,249.0 C288.6,253.5 293.2,257.3 297.9,261.5 C302.6,265.7 308.2,270.1 311.9,274.1 C315.6,278.1 317.0,281.8 320.0,285.3 C323.0,288.8 325.0,291.0 330.0,295.2 C335.0,299.4 343.3,305.5 350.0,310.5 C356.7,315.5 364.6,320.9 370.0,325.0 C375.4,329.1 378.1,331.7 382.2,334.8 C386.3,337.9 389.6,340.1 394.5,343.4 C399.4,346.7 405.9,351.1 411.6,354.4 C417.3,357.7 423.8,360.4 428.7,363.0 C433.6,365.6 436.9,368.3 441.0,370.3 C445.1,372.3 448.7,373.8 453.2,375.2 C457.7,376.6 463.4,377.1 467.9,378.9 C472.4,380.7 476.4,384.3 480.1,386.2 C483.8,388.1 485.9,388.8 490.0,390.0 C494.1,391.2 500.1,393.9 504.7,393.6 C509.2,393.3 513.1,389.8 517.3,388.0 C521.5,386.2 525.3,385.5 529.9,382.7 C534.5,379.9 540.0,375.2 544.6,371.2 C549.2,367.2 553.4,362.3 557.2,358.6 C561.0,354.9 563.8,353.3 567.6,349.1 C571.4,344.9 576.4,337.6 580.2,333.4 C584.1,329.2 586.2,327.2 590.7,323.9 C595.2,320.6 602.6,317.0 607.5,313.5 C612.4,310.0 616.2,306.1 620.1,303.0 C624.0,299.9 627.3,296.5 630.6,294.6 C633.9,292.7 635.8,293.4 640.0,291.5 C644.2,289.6 650.7,285.9 656.0,283.5 C661.3,281.1 666.6,279.1 672.0,277.1 C677.4,275.1 682.8,273.4 688.1,271.5 C693.5,269.6 698.8,267.6 704.1,265.9 C709.5,264.2 715.9,262.8 720.2,261.1 C724.5,259.4 726.6,256.8 729.8,255.5 C733.0,254.2 733.8,253.8 739.4,253.5 C745.0,253.2 757.2,253.0 763.4,253.5 C769.5,254.0 770.1,255.2 776.3,256.3 C782.4,257.4 794.2,259.2 800.3,260.3 C806.4,261.4 809.6,262.2 813.1,262.7 C816.6,263.1 818.0,262.5 821.2,263.0 C824.4,263.5 828.9,264.5 832.4,265.9 C835.9,267.3 839.3,270.2 842.0,271.5 C844.7,272.8 844.7,273.1 848.4,273.9 C852.1,274.7 860.8,275.5 864.4,276.3 C868.0,277.1 866.4,277.3 870.0,278.5 C873.6,279.7 880.6,281.8 886.0,283.3 C891.4,284.8 896.8,286.5 902.1,287.3 C907.5,288.1 912.8,287.8 918.1,288.1 C923.4,288.4 928.8,288.4 934.1,288.9 C939.5,289.4 944.9,290.9 950.2,291.3 C955.6,291.7 960.9,290.9 966.2,291.3 C971.5,291.7 976.9,292.9 982.2,293.7 C987.6,294.5 994.5,295.8 998.3,296.1 C1002.0,296.4 1002.0,296.1 1004.7,295.3 C1007.4,294.5 1010.0,293.3 1014.3,291.3 C1018.6,289.3 1024.9,285.6 1030.3,283.3 C1035.7,281.0 1041.1,279.4 1046.4,277.7 C1051.8,276.0 1057.1,274.5 1062.4,272.9 C1067.7,271.3 1073.1,269.4 1078.4,268.1 C1083.8,266.8 1089.2,265.8 1094.5,265.2 C1099.8,264.6 1103.8,264.5 1110.0,264.4 C1116.2,264.3 1125.9,265.2 1132.0,264.8 C1138.1,264.4 1139.9,263.3 1146.8,262.1 C1153.7,260.9 1165.7,259.2 1173.5,257.4 C1181.3,255.6 1186.8,253.8 1193.5,251.4 C1200.2,249.0 1206.9,245.6 1213.6,242.8 C1220.3,240.0 1228.0,237.0 1233.6,234.7 C1239.2,232.3 1243.0,230.5 1247.0,228.7 C1251.0,226.9 1253.1,225.7 1257.6,224.0 C1262.0,222.3 1269.2,220.4 1273.7,218.7 C1278.2,217.0 1281.8,215.2 1284.4,214.0 C1287.0,212.8 1288.5,211.8 1289.3,211.4" fill="none" stroke="#4a4af7" stroke-width="3.1" stroke-linecap="round" stroke-opacity="0.95"/>
<path d="M5.5,192.7 L15.7,188.7 L23.6,191.9 L31.5,193.5 L45.6,192.7 L55.1,187.2 L66.1,181.6 L75.5,177.7 L83.5,178.2 L88.5,181.2 L93.5,186.5 L98.5,190.6 L104.5,198.7 L109.5,205.5 L114.5,211.1 L120.5,217.8 L125.5,219.4 L130.5,221.4 L136.5,223.4 L141.5,222.5 L146.5,220.1 L152.5,220.2 L157.5,222.1 L162.5,220.9 L168.5,220.0 L173.5,217.9 L178.5,220.3 L183.5,221.5 L189.5,223.6 L194.5,226.3 L199.5,231.8 L205.5,232.1 L210.5,230.2 L215.5,231.1 L221.5,231.4 L226.5,233.3 L231.5,238.3 L237.5,245.8 L242.5,253.1 L247.5,266.0 L252.5,276.5 L258.5,293.5 L263.5,312.5 L268.5,334.1 L274.5,358.3 L279.5,382.8 L284.5,407.3 L290.5,429.4 L295.5,445.7 L300.5,456.5 L306.5,466.2 L311.5,473.4 L316.5,480.1 L321.5,479.0 L327.5,475.2 L332.5,465.4 L337.5,451.5 L343.5,439.7 L348.5,434.0 L353.5,427.4 L359.5,421.7 L364.5,418.2 L369.5,411.7 L375.5,410.5 L380.5,408.3 L385.5,406.1 L391.5,408.3 L396.5,409.1 L401.5,408.4 L406.5,408.1 L412.5,401.3 L417.5,390.2 L422.5,385.0 L428.5,381.9 L433.5,376.4 L438.5,376.4 L444.5,369.6 L449.5,362.7 L454.5,355.0 L460.5,345.9 L465.5,344.0 L470.5,343.9 L475.5,343.0 L481.5,339.0 L486.5,337.4 L491.5,335.0 L497.5,333.7 L502.5,333.7 L507.5,329.8 L513.5,323.8 L518.5,318.5 L523.5,313.3 L529.5,305.3 L534.5,294.5 L539.5,288.2 L544.5,280.5 L550.5,272.7 L555.5,262.6 L560.5,257.7 L566.5,254.4 L571.5,243.2 L576.5,233.3 L582.5,224.7 L587.5,225.3 L592.5,219.5 L598.5,215.7 L603.5,212.6 L608.5,209.0 L614.5,205.7 L619.5,205.4 L624.5,211.4 L629.5,216.9 L635.5,223.2 L640.5,226.9 L645.5,234.5 L651.5,239.6 L656.5,244.1 L661.5,252.4 L667.5,261.1 L672.5,266.3 L677.5,270.4 L683.5,272.6 L688.5,272.6 L693.5,268.9 L698.5,265.5 L704.5,264.6 L709.5,262.5 L714.5,257.8 L720.5,250.9 L725.5,244.5 L730.5,239.7 L736.5,238.5 L741.5,244.5 L746.5,256.1 L752.5,263.4 L757.5,271.4 L762.5,280.8 L767.5,293.8 L773.5,305.6 L778.5,318.0 L783.5,328.2 L789.5,335.8 L794.5,337.1 L799.5,330.8 L805.5,328.6 L810.5,324.6 L815.5,319.0 L821.5,312.4 L826.5,308.4 L831.5,305.7 L837.5,303.2 L842.5,300.9 L847.5,297.6 L852.5,295.9 L858.5,294.6 L863.5,292.4 L868.5,290.8 L874.5,287.3 L879.5,286.1 L884.5,284.9 L890.5,285.9 L895.5,285.7 L900.5,288.0 L906.5,289.7 L911.5,290.4 L916.5,291.4 L921.5,292.3 L927.5,294.7 L932.5,295.9 L937.5,295.8 L943.5,294.6 L948.5,294.3 L953.5,291.6 L959.5,290.0 L964.5,285.6 L969.5,282.1 L975.5,279.6 L980.5,274.9 L985.5,272.2 L990.5,268.7 L996.5,264.5 L1001.5,261.6 L1006.5,258.5 L1012.5,251.7 L1017.5,249.3 L1022.5,247.2 L1028.5,244.8 L1033.5,244.5 L1038.5,241.7 L1044.5,238.7 L1049.5,236.6 L1054.5,233.6 L1059.5,230.9 L1065.5,232.2 L1070.5,232.5 L1075.5,231.8 L1081.5,231.3 L1086.5,231.0 L1091.5,234.4 L1097.5,239.0 L1102.5,244.2 L1107.5,248.8 L1113.5,253.0 L1118.5,259.9 L1123.5,265.1 L1129.5,270.2 L1134.5,273.5 L1139.5,273.5 L1144.5,270.4 L1150.5,270.1 L1155.5,267.2 L1160.5,264.1 L1166.5,263.9 L1171.5,259.5 L1176.5,254.3 L1182.5,247.9 L1187.5,239.9 L1192.5,234.6 L1198.5,231.3 L1203.5,224.1 L1208.5,215.6 L1213.5,208.0 L1219.5,198.0 L1224.5,189.8 L1229.5,184.8 L1235.5,177.4 L1240.5,173.7 L1245.5,168.8 L1251.5,162.3 L1256.5,156.7 L1261.5,156.5 L1267.5,155.4 L1272.5,154.3 L1277.5,150.7 L1282.5,146.0 L1288.5,138.8" fill="none" stroke="#f5432f" stroke-width="1.0" stroke-linejoin="round"/>
<path d="M5.5,187.2 L14.2,188.7 L20.5,194.2 L25.2,199.0 L31.5,200.5 L38.0,198.0 L45.6,192.7 L51.5,180.8 L56.5,171.7 L61.5,167.0 L67.5,162.6 L72.5,163.9 L77.5,176.7 L83.5,184.6 L88.5,195.3 L93.5,210.5 L98.5,217.3 L104.5,220.7 L109.5,226.4 L114.5,226.9 L120.5,225.1 L125.5,221.5 L130.5,222.1 L136.5,220.5 L141.5,218.1 L146.5,215.0 L152.5,218.8 L157.5,222.0 L162.5,221.4 L168.5,222.0 L173.5,220.7 L178.5,221.9 L183.5,221.1 L189.5,225.8 L194.5,230.7 L199.5,243.0 L205.5,242.3 L210.5,239.3 L215.5,236.4 L221.5,232.1 L226.5,223.5 L231.5,234.3 L237.5,252.3 L242.5,269.8 L247.5,299.9 L252.5,329.5 L258.5,352.6 L263.5,372.6 L268.5,398.4 L274.5,416.8 L279.5,436.2 L284.5,462.0 L290.5,486.2 L295.5,493.0 L300.5,496.2 L306.5,496.2 L311.5,484.7 L316.5,474.1 L321.5,465.0 L327.5,454.1 L332.5,434.7 L337.5,418.2 L343.5,405.2 L348.5,402.9 L353.5,400.7 L359.5,408.7 L364.5,418.2 L369.5,418.2 L375.5,418.1 L380.5,415.9 L385.5,403.6 L391.5,398.4 L396.5,400.0 L401.5,398.6 L406.5,400.4 L412.5,399.1 L417.5,382.1 L422.5,370.1 L428.5,365.3 L433.5,352.4 L438.5,353.8 L444.5,357.2 L449.5,355.2 L454.5,344.7 L460.5,339.4 L465.5,334.1 L470.5,330.7 L475.5,330.7 L481.5,333.4 L486.5,335.3 L491.5,335.8 L497.5,336.7 L502.5,336.7 L507.5,326.3 L513.5,312.2 L518.5,301.2 L523.5,290.0 L529.5,274.0 L534.5,262.8 L539.5,264.2 L544.5,259.8 L550.5,255.5 L555.5,251.3 L560.5,252.6 L566.5,244.5 L571.5,226.5 L576.5,211.2 L582.5,198.2 L587.5,198.1 L592.5,194.5 L598.5,204.8 L603.5,214.1 L608.5,219.9 L614.5,213.4 L619.5,216.3 L624.5,218.1 L629.5,219.7 L635.5,226.4 L640.5,240.4 L645.5,252.7 L651.5,261.1 L656.5,268.4 L661.5,278.4 L667.5,281.7 L672.5,279.8 L677.5,279.8 L683.5,276.9 L688.5,266.7 L693.5,256.0 L698.5,251.1 L704.5,249.4 L709.5,248.2 L714.5,248.8 L720.5,245.7 L725.5,237.8 L730.5,230.0 L736.5,228.9 L741.5,240.1 L746.5,266.5 L752.5,288.9 L757.5,312.7 L762.5,332.7 L767.5,347.5 L773.5,344.6 L778.5,347.2 L783.5,343.8 L789.5,338.8 L794.5,326.8 L799.5,316.9 L805.5,309.9 L810.5,305.5 L815.5,299.2 L821.5,297.9 L826.5,299.9 L831.5,301.6 L837.5,300.9 L842.5,302.6 L847.5,297.2 L852.5,292.0 L858.5,287.6 L863.5,283.9 L868.5,279.0 L874.5,277.4 L879.5,280.2 L884.5,282.1 L890.5,288.0 L895.5,292.4 L900.5,298.7 L906.5,299.3 L911.5,298.7 L916.5,294.8 L921.5,292.1 L927.5,290.7 L932.5,292.4 L937.5,292.9 L943.5,294.4 L948.5,296.4 L953.5,292.6 L959.5,287.6 L964.5,278.3 L969.5,269.7 L975.5,262.8 L980.5,257.3 L985.5,256.8 L990.5,259.2 L996.5,259.2 L1001.5,260.4 L1006.5,259.7 L1012.5,246.5 L1017.5,239.3 L1022.5,235.3 L1028.5,229.2 L1033.5,229.3 L1038.5,236.9 L1044.5,238.0 L1049.5,237.9 L1054.5,238.0 L1059.5,232.5 L1065.5,227.5 L1070.5,227.0 L1075.5,225.8 L1081.5,224.6 L1086.5,229.5 L1091.5,241.3 L1097.5,251.0 L1102.5,262.7 L1107.5,273.1 L1113.5,276.6 L1118.5,278.5 L1123.5,279.1 L1129.5,277.7 L1134.5,273.9 L1139.5,270.4 L1144.5,262.2 L1150.5,261.1 L1155.5,256.7 L1160.5,254.3 L1166.5,257.5 L1171.5,256.8 L1176.5,247.5 L1182.5,239.1 L1187.5,225.5 L1192.5,211.8 L1198.5,205.8 L1203.5,200.8 L1208.5,192.1 L1213.5,190.4 L1219.5,184.1 L1224.5,173.9 L1229.5,168.7 L1235.5,162.7 L1240.5,156.9 L1245.5,153.5 L1251.5,150.8 L1256.5,144.7 L1261.5,150.2 L1267.5,153.9 L1272.5,155.1 L1277.5,150.6 L1282.5,147.3 L1288.5,127.5" fill="none" stroke="#111" stroke-width="1.1" stroke-linejoin="round"/>
<path d="M1134,174.5 L1183,194 M1177,181.5 L1183,194 L1169,199.7" fill="none" stroke="#ff0000" stroke-width="2.2" stroke-linecap="round" stroke-linejoin="round"/>
<path d="M1092.3,747.6 L1161.4,786 M1157.3,773.6 L1161.4,786 L1147.7,790.1" fill="none" stroke="#ff0000" stroke-width="2.2" stroke-linecap="round" stroke-linejoin="round"/>
<path d="M1235.3,729.2 L1272.3,758.6 M1271,744.3 L1272.3,758.6 L1258.6,760.2" fill="none" stroke="#ff0000" stroke-width="2.2" stroke-linecap="round" stroke-linejoin="round"/>
<text x="715.5" y="137.8" font-size="14" fill="#f44336" font-weight="normal" text-anchor="start" textLength="126.4" lengthAdjust="spacingAndGlyphs">Chiếc cốc tay cầm</text>
<text x="1046" y="154" font-size="14" fill="#f44336" font-weight="normal" text-anchor="start" textLength="71" lengthAdjust="spacingAndGlyphs">Điểm mua</text>
<text x="1046" y="168" font-size="14" fill="#f44336" font-weight="normal" text-anchor="start" textLength="89" lengthAdjust="spacingAndGlyphs">mẫu hình 3C</text>
<text x="1268.6" y="120.7" font-size="14" fill="#f44336" font-weight="normal" text-anchor="start" textLength="51" lengthAdjust="spacingAndGlyphs">Gap Up</text>
<text x="1103.8" y="739.4" font-size="14" fill="#f44336" font-weight="normal" text-anchor="start" textLength="139.2" lengthAdjust="spacingAndGlyphs">Khối lượng giảm khi</text>
<text x="1103.8" y="753.4" font-size="14" fill="#f44336" font-weight="normal" text-anchor="start" textLength="129.2" lengthAdjust="spacingAndGlyphs">kéo về MA50 ngày</text>
<text x="1237.4" y="723.5" font-size="14" fill="#f44336" font-weight="normal" text-anchor="start" textLength="112.8" lengthAdjust="spacingAndGlyphs">Khối lượng giảm</text>
<text x="1237.4" y="737.5" font-size="14" fill="#f44336" font-weight="normal" text-anchor="start" textLength="67.7" lengthAdjust="spacingAndGlyphs">khi tay cầm</text>
<g shape-rendering="crispEdges">
<rect x="3" y="181" width="1" height="16" fill="#a3cbd3"/>
<rect x="3" y="184" width="3" height="7" fill="#53b987"/>
<rect x="8" y="184" width="1" height="20" fill="#f5a9b1"/>
<rect x="6" y="193" width="5" height="7" fill="#eb4d5c"/>
<path d="M6.5,193.5h4v6h-4z" fill="none" stroke="#e33a4f" stroke-width="1" stroke-opacity="0.75"/>
<rect x="14" y="190" width="1" height="10" fill="#a3cbd3"/>
<rect x="12" y="193" width="5" height="7" fill="#53b987"/>
<path d="M12.5,193.5h4v6h-4z" fill="none" stroke="#45ae7b" stroke-width="1" stroke-opacity="0.75"/>
<rect x="19" y="195" width="1" height="13" fill="#f5a9b1"/>
<rect x="17" y="199" width="5" height="5" fill="#eb4d5c"/>
<path d="M17.5,199.5h4v4h-4z" fill="none" stroke="#e33a4f" stroke-width="1" stroke-opacity="0.75"/>
<rect x="24" y="204" width="1" height="10" fill="#f5a9b1"/>
<rect x="22" y="204" width="5" height="10" fill="#eb4d5c"/>
<path d="M22.5,204.5h4v9h-4z" fill="none" stroke="#e33a4f" stroke-width="1" stroke-opacity="0.75"/>
<rect x="29" y="194" width="1" height="35" fill="#a3cbd3"/>
<rect x="27" y="199" width="5" height="18" fill="#53b987"/>
<path d="M27.5,199.5h4v17h-4z" fill="none" stroke="#45ae7b" stroke-width="1" stroke-opacity="0.75"/>
<rect x="35" y="184" width="1" height="20" fill="#a3cbd3"/>
<rect x="33" y="190" width="5" height="14" fill="#53b987"/>
<path d="M33.5,190.5h4v13h-4z" fill="none" stroke="#45ae7b" stroke-width="1" stroke-opacity="0.75"/>
<rect x="40" y="187" width="1" height="12" fill="#a3cbd3"/>
<rect x="38" y="187" width="5" height="12" fill="#53b987"/>
<path d="M38.5,187.5h4v11h-4z" fill="none" stroke="#45ae7b" stroke-width="1" stroke-opacity="0.75"/>
<rect x="45" y="181" width="1" height="18" fill="#a3cbd3"/>
<rect x="43" y="193" width="5" height="6" fill="#53b987"/>
<path d="M43.5,193.5h4v5h-4z" fill="none" stroke="#45ae7b" stroke-width="1" stroke-opacity="0.75"/>
<rect x="51" y="135" width="1" height="76" fill="#a3cbd3"/>
<rect x="49" y="135" width="5" height="76" fill="#53b987"/>
<path d="M49.5,135.5h4v75h-4z" fill="none" stroke="#45ae7b" stroke-width="1" stroke-opacity="0.75"/>
<rect x="56" y="135" width="1" height="28" fill="#a3cbd3"/>
<rect x="54" y="154" width="5" height="1" fill="#53b987"/>
<rect x="61" y="143" width="1" height="23" fill="#f5a9b1"/>
<rect x="59" y="162" width="5" height="4" fill="#eb4d5c"/>
<path d="M59.5,162.5h4v3h-4z" fill="none" stroke="#e33a4f" stroke-width="1" stroke-opacity="0.75"/>
<rect x="67" y="156" width="1" height="12" fill="#a3cbd3"/>
<rect x="65" y="165" width="5" height="3" fill="#53b987"/>
<path d="M65.5,165.5h4v2h-4z" fill="none" stroke="#45ae7b" stroke-width="1" stroke-opacity="0.75"/>
<rect x="72" y="163" width="1" height="45" fill="#f5a9b1"/>
<rect x="70" y="167" width="5" height="33" fill="#eb4d5c"/>
<path d="M70.5,167.5h4v32h-4z" fill="none" stroke="#e33a4f" stroke-width="1" stroke-opacity="0.75"/>
<rect x="77" y="189" width="1" height="10" fill="#f5a9b1"/>
<rect x="75" y="193" width="5" height="6" fill="#eb4d5c"/>
<path d="M75.5,193.5h4v5h-4z" fill="none" stroke="#e33a4f" stroke-width="1" stroke-opacity="0.75"/>
<rect x="83" y="190" width="1" height="8" fill="#a3cbd3"/>
<rect x="81" y="193" width="5" height="5" fill="#53b987"/>
<path d="M81.5,193.5h4v4h-4z" fill="none" stroke="#45ae7b" stroke-width="1" stroke-opacity="0.75"/>
<rect x="88" y="203" width="1" height="17" fill="#f5a9b1"/>
<rect x="86" y="203" width="5" height="17" fill="#eb4d5c"/>
<path d="M86.5,203.5h4v16h-4z" fill="none" stroke="#e33a4f" stroke-width="1" stroke-opacity="0.75"/>
<rect x="93" y="222" width="1" height="22" fill="#f5a9b1"/>
<rect x="91" y="222" width="5" height="19" fill="#eb4d5c"/>
<path d="M91.5,222.5h4v18h-4z" fill="none" stroke="#e33a4f" stroke-width="1" stroke-opacity="0.75"/>
<rect x="98" y="228" width="1" height="53" fill="#a3cbd3"/>
<rect x="96" y="234" width="5" height="19" fill="#53b987"/>
<path d="M96.5,234.5h4v18h-4z" fill="none" stroke="#45ae7b" stroke-width="1" stroke-opacity="0.75"/>
<rect x="104" y="216" width="1" height="40" fill="#a3cbd3"/>
<rect x="102" y="216" width="5" height="40" fill="#53b987"/>
<path d="M102.5,216.5h4v39h-4z" fill="none" stroke="#45ae7b" stroke-width="1" stroke-opacity="0.75"/>
<rect x="109" y="207" width="1" height="22" fill="#a3cbd3"/>
<rect x="107" y="222" width="5" height="1" fill="#53b987"/>
<rect x="114" y="210" width="1" height="28" fill="#a3cbd3"/>
<rect x="112" y="222" width="5" height="16" fill="#53b987"/>
<path d="M112.5,222.5h4v15h-4z" fill="none" stroke="#45ae7b" stroke-width="1" stroke-opacity="0.75"/>
<rect x="120" y="217" width="1" height="18" fill="#f5a9b1"/>
<rect x="118" y="228" width="5" height="4" fill="#eb4d5c"/>
<path d="M118.5,228.5h4v3h-4z" fill="none" stroke="#e33a4f" stroke-width="1" stroke-opacity="0.75"/>
<rect x="125" y="213" width="1" height="25" fill="#a3cbd3"/>
<rect x="123" y="216" width="5" height="16" fill="#53b987"/>
<path d="M123.5,216.5h4v15h-4z" fill="none" stroke="#45ae7b" stroke-width="1" stroke-opacity="0.75"/>
<rect x="130" y="210" width="1" height="13" fill="#a3cbd3"/>
<rect x="128" y="219" width="5" height="4" fill="#53b987"/>
<path d="M128.5,219.5h4v3h-4z" fill="none" stroke="#45ae7b" stroke-width="1" stroke-opacity="0.75"/>
<rect x="136" y="210" width="1" height="22" fill="#a3cbd3"/>
<rect x="134" y="213" width="5" height="4" fill="#53b987"/>
<path d="M134.5,213.5h4v3h-4z" fill="none" stroke="#45ae7b" stroke-width="1" stroke-opacity="0.75"/>
<rect x="141" y="210" width="1" height="22" fill="#a3cbd3"/>
<rect x="139" y="210" width="5" height="10" fill="#53b987"/>
<path d="M139.5,210.5h4v9h-4z" fill="none" stroke="#45ae7b" stroke-width="1" stroke-opacity="0.75"/>
<rect x="146" y="210" width="1" height="19" fill="#f5a9b1"/>
<rect x="144" y="210" width="5" height="7" fill="#eb4d5c"/>
<path d="M144.5,210.5h4v6h-4z" fill="none" stroke="#e33a4f" stroke-width="1" stroke-opacity="0.75"/>
<rect x="152" y="213" width="1" height="22" fill="#f5a9b1"/>
<rect x="150" y="231" width="5" height="4" fill="#eb4d5c"/>
<path d="M150.5,231.5h4v3h-4z" fill="none" stroke="#e33a4f" stroke-width="1" stroke-opacity="0.75"/>
<rect x="157" y="220" width="1" height="15" fill="#f5a9b1"/>
<rect x="155" y="222" width="5" height="13" fill="#eb4d5c"/>
<path d="M155.5,222.5h4v12h-4z" fill="none" stroke="#e33a4f" stroke-width="1" stroke-opacity="0.75"/>
<rect x="162" y="201" width="1" height="34" fill="#a3cbd3"/>
<rect x="160" y="210" width="5" height="13" fill="#53b987"/>
<path d="M160.5,210.5h4v12h-4z" fill="none" stroke="#45ae7b" stroke-width="1" stroke-opacity="0.75"/>
<rect x="168" y="210" width="1" height="19" fill="#a3cbd3"/>
<rect x="166" y="213" width="5" height="4" fill="#53b987"/>
<path d="M166.5,213.5h4v3h-4z" fill="none" stroke="#45ae7b" stroke-width="1" stroke-opacity="0.75"/>
<rect x="173" y="210" width="1" height="19" fill="#a3cbd3"/>
<rect x="171" y="210" width="5" height="10" fill="#53b987"/>
<path d="M171.5,210.5h4v9h-4z" fill="none" stroke="#45ae7b" stroke-width="1" stroke-opacity="0.75"/>
<rect x="178" y="219" width="1" height="37" fill="#f5a9b1"/>
<rect x="176" y="225" width="5" height="16" fill="#eb4d5c"/>
<path d="M176.5,225.5h4v15h-4z" fill="none" stroke="#e33a4f" stroke-width="1" stroke-opacity="0.75"/>
<rect x="183" y="231" width="1" height="41" fill="#a3cbd3"/>
<rect x="181" y="231" width="5" height="41" fill="#53b987"/>
<path d="M181.5,231.5h4v40h-4z" fill="none" stroke="#45ae7b" stroke-width="1" stroke-opacity="0.75"/>
<rect x="189" y="231" width="1" height="28" fill="#a3cbd3"/>
<rect x="187" y="234" width="5" height="25" fill="#53b987"/>
<path d="M187.5,234.5h4v24h-4z" fill="none" stroke="#45ae7b" stroke-width="1" stroke-opacity="0.75"/>
<rect x="194" y="234" width="1" height="22" fill="#f5a9b1"/>
<rect x="192" y="234" width="5" height="4" fill="#eb4d5c"/>
<path d="M192.5,234.5h4v3h-4z" fill="none" stroke="#e33a4f" stroke-width="1" stroke-opacity="0.75"/>
<rect x="199" y="246" width="1" height="29" fill="#f5a9b1"/>
<rect x="197" y="258" width="5" height="14" fill="#eb4d5c"/>
<path d="M197.5,258.5h4v13h-4z" fill="none" stroke="#e33a4f" stroke-width="1" stroke-opacity="0.75"/>
<rect x="205" y="237" width="1" height="31" fill="#a3cbd3"/>
<rect x="203" y="237" width="5" height="19" fill="#53b987"/>
<path d="M203.5,237.5h4v18h-4z" fill="none" stroke="#45ae7b" stroke-width="1" stroke-opacity="0.75"/>
<rect x="210" y="216" width="1" height="21" fill="#a3cbd3"/>
<rect x="208" y="216" width="5" height="21" fill="#53b987"/>
<path d="M208.5,216.5h4v20h-4z" fill="none" stroke="#45ae7b" stroke-width="1" stroke-opacity="0.75"/>
<rect x="215" y="213" width="1" height="28" fill="#a3cbd3"/>
<rect x="213" y="219" width="5" height="7" fill="#53b987"/>
<path d="M213.5,219.5h4v6h-4z" fill="none" stroke="#45ae7b" stroke-width="1" stroke-opacity="0.75"/>
<rect x="221" y="211" width="1" height="16" fill="#a3cbd3"/>
<rect x="219" y="216" width="5" height="4" fill="#53b987"/>
<path d="M219.5,216.5h4v3h-4z" fill="none" stroke="#45ae7b" stroke-width="1" stroke-opacity="0.75"/>
<rect x="226" y="216" width="1" height="22" fill="#f5a9b1"/>
<rect x="224" y="222" width="5" height="7" fill="#eb4d5c"/>
<path d="M224.5,222.5h4v6h-4z" fill="none" stroke="#e33a4f" stroke-width="1" stroke-opacity="0.75"/>
<rect x="231" y="264" width="1" height="27" fill="#f5a9b1"/>
<rect x="229" y="277" width="5" height="14" fill="#eb4d5c"/>
<path d="M229.5,277.5h4v13h-4z" fill="none" stroke="#e33a4f" stroke-width="1" stroke-opacity="0.75"/>
<rect x="237" y="248" width="1" height="82" fill="#a3cbd3"/>
<rect x="235" y="306" width="5" height="24" fill="#53b987"/>
<path d="M235.5,306.5h4v23h-4z" fill="none" stroke="#45ae7b" stroke-width="1" stroke-opacity="0.75"/>
<rect x="242" y="277" width="1" height="87" fill="#f5a9b1"/>
<rect x="240" y="302" width="5" height="5" fill="#eb4d5c"/>
<path d="M240.5,302.5h4v4h-4z" fill="none" stroke="#e33a4f" stroke-width="1" stroke-opacity="0.75"/>
<rect x="247" y="346" width="1" height="21" fill="#f5a9b1"/>
<rect x="245" y="346" width="5" height="21" fill="#eb4d5c"/>
<path d="M245.5,346.5h4v20h-4z" fill="none" stroke="#e33a4f" stroke-width="1" stroke-opacity="0.75"/>
<rect x="252" y="363" width="1" height="66" fill="#a3cbd3"/>
<rect x="250" y="377" width="5" height="52" fill="#53b987"/>
<path d="M250.5,377.5h4v51h-4z" fill="none" stroke="#45ae7b" stroke-width="1" stroke-opacity="0.75"/>
<rect x="258" y="373" width="1" height="66" fill="#f5a9b1"/>
<rect x="256" y="391" width="5" height="16" fill="#eb4d5c"/>
<path d="M256.5,391.5h4v15h-4z" fill="none" stroke="#e33a4f" stroke-width="1" stroke-opacity="0.75"/>
<rect x="263" y="391" width="1" height="48" fill="#a3cbd3"/>
<rect x="261" y="406" width="5" height="30" fill="#53b987"/>
<path d="M261.5,406.5h4v29h-4z" fill="none" stroke="#45ae7b" stroke-width="1" stroke-opacity="0.75"/>
<rect x="268" y="406" width="1" height="30" fill="#f5a9b1"/>
<rect x="266" y="406" width="5" height="30" fill="#eb4d5c"/>
<path d="M266.5,406.5h4v29h-4z" fill="none" stroke="#e33a4f" stroke-width="1" stroke-opacity="0.75"/>
<rect x="274" y="443" width="1" height="55" fill="#f5a9b1"/>
<rect x="272" y="443" width="5" height="16" fill="#eb4d5c"/>
<path d="M272.5,443.5h4v15h-4z" fill="none" stroke="#e33a4f" stroke-width="1" stroke-opacity="0.75"/>
<rect x="279" y="458" width="1" height="56" fill="#a3cbd3"/>
<rect x="277" y="474" width="5" height="9" fill="#53b987"/>
<path d="M277.5,474.5h4v8h-4z" fill="none" stroke="#45ae7b" stroke-width="1" stroke-opacity="0.75"/>
<rect x="284" y="490" width="1" height="46" fill="#f5a9b1"/>
<rect x="282" y="514" width="5" height="22" fill="#eb4d5c"/>
<path d="M282.5,514.5h4v21h-4z" fill="none" stroke="#e33a4f" stroke-width="1" stroke-opacity="0.75"/>
<rect x="290" y="527" width="1" height="39" fill="#a3cbd3"/>
<rect x="288" y="527" width="5" height="31" fill="#53b987"/>
<path d="M288.5,527.5h4v30h-4z" fill="none" stroke="#45ae7b" stroke-width="1" stroke-opacity="0.75"/>
<rect x="295" y="470" width="1" height="48" fill="#a3cbd3"/>
<rect x="293" y="470" width="5" height="45" fill="#53b987"/>
<path d="M293.5,470.5h4v44h-4z" fill="none" stroke="#45ae7b" stroke-width="1" stroke-opacity="0.75"/>
<rect x="300" y="451" width="1" height="32" fill="#f5a9b1"/>
<rect x="298" y="458" width="5" height="17" fill="#eb4d5c"/>
<path d="M298.5,458.5h4v16h-4z" fill="none" stroke="#e33a4f" stroke-width="1" stroke-opacity="0.75"/>
<rect x="306" y="465" width="1" height="29" fill="#a3cbd3"/>
<rect x="304" y="474" width="5" height="9" fill="#53b987"/>
<path d="M304.5,474.5h4v8h-4z" fill="none" stroke="#45ae7b" stroke-width="1" stroke-opacity="0.75"/>
<rect x="311" y="478" width="1" height="58" fill="#a3cbd3"/>
<rect x="309" y="478" width="5" height="17" fill="#53b987"/>
<path d="M309.5,478.5h4v16h-4z" fill="none" stroke="#45ae7b" stroke-width="1" stroke-opacity="0.75"/>
<rect x="316" y="469" width="1" height="49" fill="#a3cbd3"/>
<rect x="314" y="474" width="5" height="5" fill="#53b987"/>
<path d="M314.5,474.5h4v4h-4z" fill="none" stroke="#45ae7b" stroke-width="1" stroke-opacity="0.75"/>
<rect x="321" y="424" width="1" height="87" fill="#a3cbd3"/>
<rect x="319" y="424" width="5" height="87" fill="#53b987"/>
<path d="M319.5,424.5h4v86h-4z" fill="none" stroke="#45ae7b" stroke-width="1" stroke-opacity="0.75"/>
<rect x="327" y="420" width="1" height="16" fill="#a3cbd3"/>
<rect x="325" y="420" width="5" height="13" fill="#53b987"/>
<path d="M325.5,420.5h4v12h-4z" fill="none" stroke="#45ae7b" stroke-width="1" stroke-opacity="0.75"/>
<rect x="332" y="373" width="1" height="46" fill="#a3cbd3"/>
<rect x="330" y="377" width="5" height="15" fill="#53b987"/>
<path d="M330.5,377.5h4v14h-4z" fill="none" stroke="#45ae7b" stroke-width="1" stroke-opacity="0.75"/>
<rect x="337" y="377" width="1" height="42" fill="#f5a9b1"/>
<rect x="335" y="377" width="5" height="19" fill="#eb4d5c"/>
<path d="M335.5,377.5h4v18h-4z" fill="none" stroke="#e33a4f" stroke-width="1" stroke-opacity="0.75"/>
<rect x="343" y="404" width="1" height="25" fill="#a3cbd3"/>
<rect x="341" y="409" width="5" height="12" fill="#53b987"/>
<path d="M341.5,409.5h4v11h-4z" fill="none" stroke="#45ae7b" stroke-width="1" stroke-opacity="0.75"/>
<rect x="348" y="407" width="1" height="25" fill="#a3cbd3"/>
<rect x="346" y="413" width="5" height="5" fill="#53b987"/>
<path d="M346.5,413.5h4v4h-4z" fill="none" stroke="#45ae7b" stroke-width="1" stroke-opacity="0.75"/>
<rect x="353" y="404" width="1" height="24" fill="#a3cbd3"/>
<rect x="351" y="409" width="5" height="5" fill="#53b987"/>
<path d="M351.5,409.5h4v4h-4z" fill="none" stroke="#45ae7b" stroke-width="1" stroke-opacity="0.75"/>
<rect x="359" y="407" width="1" height="22" fill="#a3cbd3"/>
<rect x="357" y="417" width="5" height="4" fill="#53b987"/>
<path d="M357.5,417.5h4v3h-4z" fill="none" stroke="#45ae7b" stroke-width="1" stroke-opacity="0.75"/>
<rect x="364" y="417" width="1" height="50" fill="#f5a9b1"/>
<rect x="362" y="417" width="5" height="26" fill="#eb4d5c"/>
<path d="M362.5,417.5h4v25h-4z" fill="none" stroke="#e33a4f" stroke-width="1" stroke-opacity="0.75"/>
<rect x="369" y="402" width="1" height="41" fill="#a3cbd3"/>
<rect x="367" y="409" width="5" height="34" fill="#53b987"/>
<path d="M367.5,409.5h4v33h-4z" fill="none" stroke="#45ae7b" stroke-width="1" stroke-opacity="0.75"/>
<rect x="375" y="409" width="1" height="23" fill="#a3cbd3"/>
<rect x="373" y="412" width="5" height="1" fill="#53b987"/>
<rect x="380" y="366" width="1" height="41" fill="#a3cbd3"/>
<rect x="378" y="398" width="5" height="9" fill="#53b987"/>
<path d="M378.5,398.5h4v8h-4z" fill="none" stroke="#45ae7b" stroke-width="1" stroke-opacity="0.75"/>
<rect x="385" y="349" width="1" height="50" fill="#a3cbd3"/>
<rect x="383" y="356" width="5" height="36" fill="#53b987"/>
<path d="M383.5,356.5h4v35h-4z" fill="none" stroke="#45ae7b" stroke-width="1" stroke-opacity="0.75"/>
<rect x="391" y="375" width="1" height="43" fill="#f5a9b1"/>
<rect x="389" y="384" width="5" height="34" fill="#eb4d5c"/>
<path d="M389.5,384.5h4v33h-4z" fill="none" stroke="#e33a4f" stroke-width="1" stroke-opacity="0.75"/>
<rect x="396" y="395" width="1" height="60" fill="#a3cbd3"/>
<rect x="394" y="417" width="5" height="27" fill="#53b987"/>
<path d="M394.5,417.5h4v26h-4z" fill="none" stroke="#45ae7b" stroke-width="1" stroke-opacity="0.75"/>
<rect x="401" y="395" width="1" height="18" fill="#a3cbd3"/>
<rect x="399" y="405" width="5" height="1" fill="#53b987"/>
<rect x="406" y="395" width="1" height="25" fill="#f5a9b1"/>
<rect x="404" y="395" width="5" height="12" fill="#eb4d5c"/>
<path d="M404.5,395.5h4v11h-4z" fill="none" stroke="#e33a4f" stroke-width="1" stroke-opacity="0.75"/>
<rect x="412" y="349" width="1" height="47" fill="#a3cbd3"/>
<rect x="410" y="349" width="5" height="47" fill="#53b987"/>
<path d="M410.5,349.5h4v46h-4z" fill="none" stroke="#45ae7b" stroke-width="1" stroke-opacity="0.75"/>
<rect x="417" y="299" width="1" height="47" fill="#f5a9b1"/>
<rect x="415" y="329" width="5" height="4" fill="#eb4d5c"/>
<path d="M415.5,329.5h4v3h-4z" fill="none" stroke="#e33a4f" stroke-width="1" stroke-opacity="0.75"/>
<rect x="422" y="329" width="1" height="28" fill="#f5a9b1"/>
<rect x="420" y="342" width="5" height="15" fill="#eb4d5c"/>
<path d="M420.5,342.5h4v14h-4z" fill="none" stroke="#e33a4f" stroke-width="1" stroke-opacity="0.75"/>
<rect x="428" y="373" width="1" height="11" fill="#f5a9b1"/>
<rect x="426" y="373" width="5" height="8" fill="#eb4d5c"/>
<path d="M426.5,373.5h4v7h-4z" fill="none" stroke="#e33a4f" stroke-width="1" stroke-opacity="0.75"/>
<rect x="433" y="342" width="1" height="39" fill="#a3cbd3"/>
<rect x="431" y="342" width="5" height="39" fill="#53b987"/>
<path d="M431.5,342.5h4v38h-4z" fill="none" stroke="#45ae7b" stroke-width="1" stroke-opacity="0.75"/>
<rect x="438" y="336" width="1" height="20" fill="#f5a9b1"/>
<rect x="436" y="336" width="5" height="20" fill="#eb4d5c"/>
<path d="M436.5,336.5h4v19h-4z" fill="none" stroke="#e33a4f" stroke-width="1" stroke-opacity="0.75"/>
<rect x="444" y="343" width="1" height="16" fill="#f5a9b1"/>
<rect x="442" y="346" width="5" height="4" fill="#eb4d5c"/>
<path d="M442.5,346.5h4v3h-4z" fill="none" stroke="#e33a4f" stroke-width="1" stroke-opacity="0.75"/>
<rect x="449" y="329" width="1" height="19" fill="#f5a9b1"/>
<rect x="447" y="336" width="5" height="11" fill="#eb4d5c"/>
<path d="M447.5,336.5h4v10h-4z" fill="none" stroke="#e33a4f" stroke-width="1" stroke-opacity="0.75"/>
<rect x="454" y="309" width="1" height="33" fill="#a3cbd3"/>
<rect x="452" y="329" width="5" height="8" fill="#53b987"/>
<path d="M452.5,329.5h4v7h-4z" fill="none" stroke="#45ae7b" stroke-width="1" stroke-opacity="0.75"/>
<rect x="460" y="302" width="1" height="40" fill="#a3cbd3"/>
<rect x="458" y="316" width="5" height="14" fill="#53b987"/>
<path d="M458.5,316.5h4v13h-4z" fill="none" stroke="#45ae7b" stroke-width="1" stroke-opacity="0.75"/>
<rect x="465" y="299" width="1" height="31" fill="#f5a9b1"/>
<rect x="463" y="316" width="5" height="14" fill="#eb4d5c"/>
<path d="M463.5,316.5h4v13h-4z" fill="none" stroke="#e33a4f" stroke-width="1" stroke-opacity="0.75"/>
<rect x="470" y="308" width="1" height="24" fill="#f5a9b1"/>
<rect x="468" y="325" width="5" height="7" fill="#eb4d5c"/>
<path d="M468.5,325.5h4v6h-4z" fill="none" stroke="#e33a4f" stroke-width="1" stroke-opacity="0.75"/>
<rect x="475" y="319" width="1" height="34" fill="#f5a9b1"/>
<rect x="473" y="329" width="5" height="18" fill="#eb4d5c"/>
<path d="M473.5,329.5h4v17h-4z" fill="none" stroke="#e33a4f" stroke-width="1" stroke-opacity="0.75"/>
<rect x="481" y="338" width="1" height="19" fill="#a3cbd3"/>
<rect x="479" y="342" width="5" height="1" fill="#53b987"/>
<rect x="486" y="316" width="1" height="13" fill="#f5a9b1"/>
<rect x="484" y="322" width="5" height="4" fill="#eb4d5c"/>
<path d="M484.5,322.5h4v3h-4z" fill="none" stroke="#e33a4f" stroke-width="1" stroke-opacity="0.75"/>
<rect x="491" y="322" width="1" height="12" fill="#a3cbd3"/>
<rect x="489" y="332" width="5" height="1" fill="#53b987"/>
<rect x="497" y="322" width="1" height="15" fill="#f5a9b1"/>
<rect x="495" y="325" width="5" height="12" fill="#eb4d5c"/>
<path d="M495.5,325.5h4v11h-4z" fill="none" stroke="#e33a4f" stroke-width="1" stroke-opacity="0.75"/>
<rect x="502" y="332" width="1" height="18" fill="#f5a9b1"/>
<rect x="500" y="332" width="5" height="15" fill="#eb4d5c"/>
<path d="M500.5,332.5h4v14h-4z" fill="none" stroke="#e33a4f" stroke-width="1" stroke-opacity="0.75"/>
<rect x="507" y="290" width="1" height="57" fill="#a3cbd3"/>
<rect x="505" y="290" width="5" height="50" fill="#53b987"/>
<path d="M505.5,290.5h4v49h-4z" fill="none" stroke="#45ae7b" stroke-width="1" stroke-opacity="0.75"/>
<rect x="513" y="243" width="1" height="22" fill="#a3cbd3"/>
<rect x="511" y="255" width="5" height="7" fill="#53b987"/>
<path d="M511.5,255.5h4v6h-4z" fill="none" stroke="#45ae7b" stroke-width="1" stroke-opacity="0.75"/>
<rect x="518" y="252" width="1" height="28" fill="#f5a9b1"/>
<rect x="516" y="252" width="5" height="25" fill="#eb4d5c"/>
<path d="M516.5,252.5h4v24h-4z" fill="none" stroke="#e33a4f" stroke-width="1" stroke-opacity="0.75"/>
<rect x="523" y="271" width="1" height="20" fill="#a3cbd3"/>
<rect x="521" y="280" width="5" height="11" fill="#53b987"/>
<path d="M521.5,280.5h4v10h-4z" fill="none" stroke="#45ae7b" stroke-width="1" stroke-opacity="0.75"/>
<rect x="529" y="259" width="1" height="32" fill="#a3cbd3"/>
<rect x="527" y="267" width="5" height="24" fill="#53b987"/>
<path d="M527.5,267.5h4v23h-4z" fill="none" stroke="#45ae7b" stroke-width="1" stroke-opacity="0.75"/>
<rect x="534" y="228" width="1" height="36" fill="#a3cbd3"/>
<rect x="532" y="234" width="5" height="30" fill="#53b987"/>
<path d="M532.5,234.5h4v29h-4z" fill="none" stroke="#45ae7b" stroke-width="1" stroke-opacity="0.75"/>
<rect x="539" y="228" width="1" height="35" fill="#f5a9b1"/>
<rect x="537" y="231" width="5" height="32" fill="#eb4d5c"/>
<path d="M537.5,231.5h4v31h-4z" fill="none" stroke="#e33a4f" stroke-width="1" stroke-opacity="0.75"/>
<rect x="544" y="243" width="1" height="32" fill="#a3cbd3"/>
<rect x="542" y="255" width="5" height="13" fill="#53b987"/>
<path d="M542.5,255.5h4v12h-4z" fill="none" stroke="#45ae7b" stroke-width="1" stroke-opacity="0.75"/>
<rect x="550" y="231" width="1" height="30" fill="#f5a9b1"/>
<rect x="548" y="255" width="5" height="3" fill="#eb4d5c"/>
<path d="M548.5,255.5h4v2h-4z" fill="none" stroke="#e33a4f" stroke-width="1" stroke-opacity="0.75"/>
<rect x="555" y="241" width="1" height="27" fill="#a3cbd3"/>
<rect x="553" y="246" width="5" height="12" fill="#53b987"/>
<path d="M553.5,246.5h4v11h-4z" fill="none" stroke="#45ae7b" stroke-width="1" stroke-opacity="0.75"/>
<rect x="560" y="213" width="1" height="28" fill="#f5a9b1"/>
<rect x="558" y="234" width="5" height="7" fill="#eb4d5c"/>
<path d="M558.5,234.5h4v6h-4z" fill="none" stroke="#e33a4f" stroke-width="1" stroke-opacity="0.75"/>
<rect x="566" y="199" width="1" height="42" fill="#a3cbd3"/>
<rect x="564" y="222" width="5" height="19" fill="#53b987"/>
<path d="M564.5,222.5h4v18h-4z" fill="none" stroke="#45ae7b" stroke-width="1" stroke-opacity="0.75"/>
<rect x="571" y="165" width="1" height="57" fill="#a3cbd3"/>
<rect x="569" y="165" width="5" height="45" fill="#53b987"/>
<path d="M569.5,165.5h4v44h-4z" fill="none" stroke="#45ae7b" stroke-width="1" stroke-opacity="0.75"/>
<rect x="576" y="106" width="1" height="76" fill="#f5a9b1"/>
<rect x="574" y="116" width="5" height="66" fill="#eb4d5c"/>
<path d="M574.5,116.5h4v65h-4z" fill="none" stroke="#e33a4f" stroke-width="1" stroke-opacity="0.75"/>
<rect x="582" y="171" width="1" height="57" fill="#a3cbd3"/>
<rect x="580" y="181" width="5" height="47" fill="#53b987"/>
<path d="M580.5,181.5h4v46h-4z" fill="none" stroke="#45ae7b" stroke-width="1" stroke-opacity="0.75"/>
<rect x="587" y="167" width="1" height="73" fill="#f5a9b1"/>
<rect x="585" y="179" width="5" height="61" fill="#eb4d5c"/>
<path d="M585.5,179.5h4v60h-4z" fill="none" stroke="#e33a4f" stroke-width="1" stroke-opacity="0.75"/>
<rect x="592" y="204" width="1" height="30" fill="#a3cbd3"/>
<rect x="590" y="204" width="5" height="18" fill="#53b987"/>
<path d="M590.5,204.5h4v17h-4z" fill="none" stroke="#45ae7b" stroke-width="1" stroke-opacity="0.75"/>
<rect x="598" y="204" width="1" height="36" fill="#f5a9b1"/>
<rect x="596" y="213" width="5" height="4" fill="#eb4d5c"/>
<path d="M596.5,213.5h4v3h-4z" fill="none" stroke="#e33a4f" stroke-width="1" stroke-opacity="0.75"/>
<rect x="603" y="217" width="1" height="23" fill="#a3cbd3"/>
<rect x="601" y="228" width="5" height="9" fill="#53b987"/>
<path d="M601.5,228.5h4v8h-4z" fill="none" stroke="#45ae7b" stroke-width="1" stroke-opacity="0.75"/>
<rect x="608" y="204" width="1" height="18" fill="#a3cbd3"/>
<rect x="606" y="210" width="5" height="4" fill="#53b987"/>
<path d="M606.5,210.5h4v3h-4z" fill="none" stroke="#45ae7b" stroke-width="1" stroke-opacity="0.75"/>
<rect x="614" y="190" width="1" height="18" fill="#f5a9b1"/>
<rect x="612" y="204" width="5" height="4" fill="#eb4d5c"/>
<path d="M612.5,204.5h4v3h-4z" fill="none" stroke="#e33a4f" stroke-width="1" stroke-opacity="0.75"/>
<rect x="619" y="199" width="1" height="26" fill="#f5a9b1"/>
<rect x="617" y="207" width="5" height="12" fill="#eb4d5c"/>
<path d="M617.5,207.5h4v11h-4z" fill="none" stroke="#e33a4f" stroke-width="1" stroke-opacity="0.75"/>
<rect x="624" y="210" width="1" height="37" fill="#f5a9b1"/>
<rect x="622" y="219" width="5" height="6" fill="#eb4d5c"/>
<path d="M622.5,219.5h4v5h-4z" fill="none" stroke="#e33a4f" stroke-width="1" stroke-opacity="0.75"/>
<rect x="629" y="225" width="1" height="18" fill="#a3cbd3"/>
<rect x="627" y="236" width="5" height="2" fill="#53b987"/>
<rect x="635" y="225" width="1" height="22" fill="#f5a9b1"/>
<rect x="633" y="231" width="5" height="13" fill="#eb4d5c"/>
<path d="M633.5,231.5h4v12h-4z" fill="none" stroke="#e33a4f" stroke-width="1" stroke-opacity="0.75"/>
<rect x="640" y="252" width="1" height="50" fill="#f5a9b1"/>
<rect x="638" y="252" width="5" height="26" fill="#eb4d5c"/>
<path d="M638.5,252.5h4v25h-4z" fill="none" stroke="#e33a4f" stroke-width="1" stroke-opacity="0.75"/>
<rect x="645" y="261" width="1" height="61" fill="#f5a9b1"/>
<rect x="643" y="261" width="5" height="19" fill="#eb4d5c"/>
<path d="M643.5,261.5h4v18h-4z" fill="none" stroke="#e33a4f" stroke-width="1" stroke-opacity="0.75"/>
<rect x="651" y="263" width="1" height="45" fill="#a3cbd3"/>
<rect x="649" y="267" width="5" height="33" fill="#53b987"/>
<path d="M649.5,267.5h4v32h-4z" fill="none" stroke="#45ae7b" stroke-width="1" stroke-opacity="0.75"/>
<rect x="656" y="267" width="1" height="11" fill="#a3cbd3"/>
<rect x="654" y="273" width="5" height="5" fill="#53b987"/>
<path d="M654.5,273.5h4v4h-4z" fill="none" stroke="#45ae7b" stroke-width="1" stroke-opacity="0.75"/>
<rect x="661" y="272" width="1" height="22" fill="#f5a9b1"/>
<rect x="659" y="280" width="5" height="14" fill="#eb4d5c"/>
<path d="M659.5,280.5h4v13h-4z" fill="none" stroke="#e33a4f" stroke-width="1" stroke-opacity="0.75"/>
<rect x="667" y="272" width="1" height="22" fill="#f5a9b1"/>
<rect x="665" y="286" width="5" height="8" fill="#eb4d5c"/>
<path d="M665.5,286.5h4v7h-4z" fill="none" stroke="#e33a4f" stroke-width="1" stroke-opacity="0.75"/>
<rect x="672" y="271" width="1" height="9" fill="#a3cbd3"/>
<rect x="670" y="271" width="5" height="9" fill="#53b987"/>
<path d="M670.5,271.5h4v8h-4z" fill="none" stroke="#45ae7b" stroke-width="1" stroke-opacity="0.75"/>
<rect x="677" y="258" width="1" height="22" fill="#a3cbd3"/>
<rect x="675" y="267" width="5" height="13" fill="#53b987"/>
<path d="M675.5,267.5h4v12h-4z" fill="none" stroke="#45ae7b" stroke-width="1" stroke-opacity="0.75"/>
<rect x="683" y="252" width="1" height="16" fill="#a3cbd3"/>
<rect x="681" y="258" width="5" height="10" fill="#53b987"/>
<path d="M681.5,258.5h4v9h-4z" fill="none" stroke="#45ae7b" stroke-width="1" stroke-opacity="0.75"/>
<rect x="688" y="240" width="1" height="18" fill="#a3cbd3"/>
<rect x="686" y="243" width="5" height="15" fill="#53b987"/>
<path d="M686.5,243.5h4v14h-4z" fill="none" stroke="#45ae7b" stroke-width="1" stroke-opacity="0.75"/>
<rect x="693" y="222" width="1" height="18" fill="#f5a9b1"/>
<rect x="691" y="234" width="5" height="6" fill="#eb4d5c"/>
<path d="M691.5,234.5h4v5h-4z" fill="none" stroke="#e33a4f" stroke-width="1" stroke-opacity="0.75"/>
<rect x="698" y="240" width="1" height="18" fill="#f5a9b1"/>
<rect x="696" y="240" width="5" height="7" fill="#eb4d5c"/>
<path d="M696.5,240.5h4v6h-4z" fill="none" stroke="#e33a4f" stroke-width="1" stroke-opacity="0.75"/>
<rect x="704" y="237" width="1" height="22" fill="#f5a9b1"/>
<rect x="702" y="246" width="5" height="13" fill="#eb4d5c"/>
<path d="M702.5,246.5h4v12h-4z" fill="none" stroke="#e33a4f" stroke-width="1" stroke-opacity="0.75"/>
<rect x="709" y="246" width="1" height="13" fill="#a3cbd3"/>
<rect x="707" y="252" width="5" height="7" fill="#53b987"/>
<path d="M707.5,252.5h4v6h-4z" fill="none" stroke="#45ae7b" stroke-width="1" stroke-opacity="0.75"/>
<rect x="714" y="240" width="1" height="24" fill="#a3cbd3"/>
<rect x="712" y="246" width="5" height="7" fill="#53b987"/>
<path d="M712.5,246.5h4v6h-4z" fill="none" stroke="#45ae7b" stroke-width="1" stroke-opacity="0.75"/>
<rect x="720" y="207" width="1" height="37" fill="#a3cbd3"/>
<rect x="718" y="225" width="5" height="10" fill="#53b987"/>
<path d="M718.5,225.5h4v9h-4z" fill="none" stroke="#45ae7b" stroke-width="1" stroke-opacity="0.75"/>
<rect x="725" y="207" width="1" height="19" fill="#a3cbd3"/>
<rect x="723" y="207" width="5" height="19" fill="#53b987"/>
<path d="M723.5,207.5h4v18h-4z" fill="none" stroke="#45ae7b" stroke-width="1" stroke-opacity="0.75"/>
<rect x="730" y="204" width="1" height="34" fill="#f5a9b1"/>
<rect x="728" y="204" width="5" height="16" fill="#eb4d5c"/>
<path d="M728.5,204.5h4v15h-4z" fill="none" stroke="#e33a4f" stroke-width="1" stroke-opacity="0.75"/>
<rect x="736" y="222" width="1" height="36" fill="#f5a9b1"/>
<rect x="734" y="234" width="5" height="13" fill="#eb4d5c"/>
<path d="M734.5,234.5h4v12h-4z" fill="none" stroke="#e33a4f" stroke-width="1" stroke-opacity="0.75"/>
<rect x="741" y="238" width="1" height="72" fill="#f5a9b1"/>
<rect x="739" y="252" width="5" height="50" fill="#eb4d5c"/>
<path d="M739.5,252.5h4v49h-4z" fill="none" stroke="#e33a4f" stroke-width="1" stroke-opacity="0.75"/>
<rect x="746" y="325" width="1" height="39" fill="#f5a9b1"/>
<rect x="744" y="349" width="5" height="8" fill="#eb4d5c"/>
<path d="M744.5,349.5h4v7h-4z" fill="none" stroke="#e33a4f" stroke-width="1" stroke-opacity="0.75"/>
<rect x="752" y="312" width="1" height="52" fill="#a3cbd3"/>
<rect x="750" y="319" width="5" height="24" fill="#53b987"/>
<path d="M750.5,319.5h4v23h-4z" fill="none" stroke="#45ae7b" stroke-width="1" stroke-opacity="0.75"/>
<rect x="757" y="328" width="1" height="36" fill="#a3cbd3"/>
<rect x="755" y="339" width="5" height="10" fill="#53b987"/>
<path d="M755.5,339.5h4v9h-4z" fill="none" stroke="#45ae7b" stroke-width="1" stroke-opacity="0.75"/>
<rect x="762" y="342" width="1" height="4" fill="#f5a9b1"/>
<rect x="760" y="342" width="5" height="4" fill="#eb4d5c"/>
<path d="M760.5,342.5h4v3h-4z" fill="none" stroke="#e33a4f" stroke-width="1" stroke-opacity="0.75"/>
<rect x="767" y="356" width="1" height="25" fill="#a3cbd3"/>
<rect x="765" y="376" width="5" height="2" fill="#53b987"/>
<rect x="773" y="339" width="1" height="34" fill="#a3cbd3"/>
<rect x="771" y="342" width="5" height="22" fill="#53b987"/>
<path d="M771.5,342.5h4v21h-4z" fill="none" stroke="#45ae7b" stroke-width="1" stroke-opacity="0.75"/>
<rect x="778" y="322" width="1" height="18" fill="#a3cbd3"/>
<rect x="776" y="332" width="5" height="5" fill="#53b987"/>
<path d="M776.5,332.5h4v4h-4z" fill="none" stroke="#45ae7b" stroke-width="1" stroke-opacity="0.75"/>
<rect x="783" y="316" width="1" height="26" fill="#a3cbd3"/>
<rect x="781" y="322" width="5" height="14" fill="#53b987"/>
<path d="M781.5,322.5h4v13h-4z" fill="none" stroke="#45ae7b" stroke-width="1" stroke-opacity="0.75"/>
<rect x="789" y="310" width="1" height="26" fill="#a3cbd3"/>
<rect x="787" y="322" width="5" height="11" fill="#53b987"/>
<path d="M787.5,322.5h4v10h-4z" fill="none" stroke="#45ae7b" stroke-width="1" stroke-opacity="0.75"/>
<rect x="794" y="316" width="1" height="7" fill="#a3cbd3"/>
<rect x="792" y="316" width="5" height="7" fill="#53b987"/>
<path d="M792.5,316.5h4v6h-4z" fill="none" stroke="#45ae7b" stroke-width="1" stroke-opacity="0.75"/>
<rect x="799" y="274" width="1" height="36" fill="#a3cbd3"/>
<rect x="797" y="293" width="5" height="17" fill="#53b987"/>
<path d="M797.5,293.5h4v16h-4z" fill="none" stroke="#45ae7b" stroke-width="1" stroke-opacity="0.75"/>
<rect x="805" y="283" width="1" height="17" fill="#f5a9b1"/>
<rect x="803" y="286" width="5" height="11" fill="#eb4d5c"/>
<path d="M803.5,286.5h4v10h-4z" fill="none" stroke="#e33a4f" stroke-width="1" stroke-opacity="0.75"/>
<rect x="810" y="290" width="1" height="19" fill="#f5a9b1"/>
<rect x="808" y="290" width="5" height="10" fill="#eb4d5c"/>
<path d="M808.5,290.5h4v9h-4z" fill="none" stroke="#e33a4f" stroke-width="1" stroke-opacity="0.75"/>
<rect x="815" y="290" width="1" height="7" fill="#a3cbd3"/>
<rect x="813" y="290" width="5" height="7" fill="#53b987"/>
<path d="M813.5,290.5h4v6h-4z" fill="none" stroke="#45ae7b" stroke-width="1" stroke-opacity="0.75"/>
<rect x="821" y="286" width="1" height="31" fill="#f5a9b1"/>
<rect x="819" y="296" width="5" height="14" fill="#eb4d5c"/>
<path d="M819.5,296.5h4v13h-4z" fill="none" stroke="#e33a4f" stroke-width="1" stroke-opacity="0.75"/>
<rect x="826" y="302" width="1" height="15" fill="#a3cbd3"/>
<rect x="824" y="302" width="5" height="10" fill="#53b987"/>
<path d="M824.5,302.5h4v9h-4z" fill="none" stroke="#45ae7b" stroke-width="1" stroke-opacity="0.75"/>
<rect x="831" y="296" width="1" height="16" fill="#a3cbd3"/>
<rect x="829" y="306" width="5" height="6" fill="#53b987"/>
<path d="M829.5,306.5h4v5h-4z" fill="none" stroke="#45ae7b" stroke-width="1" stroke-opacity="0.75"/>
<rect x="837" y="283" width="1" height="23" fill="#a3cbd3"/>
<rect x="835" y="296" width="5" height="10" fill="#53b987"/>
<path d="M835.5,296.5h4v9h-4z" fill="none" stroke="#45ae7b" stroke-width="1" stroke-opacity="0.75"/>
<rect x="842" y="286" width="1" height="16" fill="#a3cbd3"/>
<rect x="840" y="299" width="5" height="3" fill="#53b987"/>
<path d="M840.5,299.5h4v2h-4z" fill="none" stroke="#45ae7b" stroke-width="1" stroke-opacity="0.75"/>
<rect x="847" y="283" width="1" height="13" fill="#a3cbd3"/>
<rect x="845" y="283" width="5" height="13" fill="#53b987"/>
<path d="M845.5,283.5h4v12h-4z" fill="none" stroke="#45ae7b" stroke-width="1" stroke-opacity="0.75"/>
<rect x="852" y="274" width="1" height="9" fill="#a3cbd3"/>
<rect x="850" y="276" width="5" height="2" fill="#53b987"/>
<rect x="858" y="264" width="1" height="20" fill="#f5a9b1"/>
<rect x="856" y="274" width="5" height="10" fill="#eb4d5c"/>
<path d="M856.5,274.5h4v9h-4z" fill="none" stroke="#e33a4f" stroke-width="1" stroke-opacity="0.75"/>
<rect x="863" y="258" width="1" height="33" fill="#a3cbd3"/>
<rect x="861" y="278" width="5" height="6" fill="#53b987"/>
<path d="M861.5,278.5h4v5h-4z" fill="none" stroke="#45ae7b" stroke-width="1" stroke-opacity="0.75"/>
<rect x="868" y="261" width="1" height="17" fill="#a3cbd3"/>
<rect x="866" y="274" width="5" height="4" fill="#53b987"/>
<path d="M866.5,274.5h4v3h-4z" fill="none" stroke="#45ae7b" stroke-width="1" stroke-opacity="0.75"/>
<rect x="874" y="261" width="1" height="14" fill="#f5a9b1"/>
<rect x="872" y="264" width="5" height="11" fill="#eb4d5c"/>
<path d="M872.5,264.5h4v10h-4z" fill="none" stroke="#e33a4f" stroke-width="1" stroke-opacity="0.75"/>
<rect x="879" y="260" width="1" height="30" fill="#f5a9b1"/>
<rect x="877" y="264" width="5" height="26" fill="#eb4d5c"/>
<path d="M877.5,264.5h4v25h-4z" fill="none" stroke="#e33a4f" stroke-width="1" stroke-opacity="0.75"/>
<rect x="884" y="283" width="1" height="17" fill="#f5a9b1"/>
<rect x="882" y="290" width="5" height="3" fill="#eb4d5c"/>
<path d="M882.5,290.5h4v2h-4z" fill="none" stroke="#e33a4f" stroke-width="1" stroke-opacity="0.75"/>
<rect x="890" y="284" width="1" height="25" fill="#f5a9b1"/>
<rect x="888" y="290" width="5" height="17" fill="#eb4d5c"/>
<path d="M888.5,290.5h4v16h-4z" fill="none" stroke="#e33a4f" stroke-width="1" stroke-opacity="0.75"/>
<rect x="895" y="296" width="1" height="24" fill="#a3cbd3"/>
<rect x="893" y="296" width="5" height="21" fill="#53b987"/>
<path d="M893.5,296.5h4v20h-4z" fill="none" stroke="#45ae7b" stroke-width="1" stroke-opacity="0.75"/>
<rect x="900" y="286" width="1" height="20" fill="#f5a9b1"/>
<rect x="898" y="286" width="5" height="20" fill="#eb4d5c"/>
<path d="M898.5,286.5h4v19h-4z" fill="none" stroke="#e33a4f" stroke-width="1" stroke-opacity="0.75"/>
<rect x="906" y="293" width="1" height="13" fill="#a3cbd3"/>
<rect x="904" y="293" width="5" height="7" fill="#53b987"/>
<path d="M904.5,293.5h4v6h-4z" fill="none" stroke="#45ae7b" stroke-width="1" stroke-opacity="0.75"/>
<rect x="911" y="290" width="1" height="3" fill="#a3cbd3"/>
<rect x="909" y="290" width="5" height="3" fill="#53b987"/>
<path d="M909.5,290.5h4v2h-4z" fill="none" stroke="#45ae7b" stroke-width="1" stroke-opacity="0.75"/>
<rect x="916" y="274" width="1" height="13" fill="#f5a9b1"/>
<rect x="914" y="280" width="5" height="7" fill="#eb4d5c"/>
<path d="M914.5,280.5h4v6h-4z" fill="none" stroke="#e33a4f" stroke-width="1" stroke-opacity="0.75"/>
<rect x="921" y="283" width="1" height="19" fill="#a3cbd3"/>
<rect x="919" y="283" width="5" height="8" fill="#53b987"/>
<path d="M919.5,283.5h4v7h-4z" fill="none" stroke="#45ae7b" stroke-width="1" stroke-opacity="0.75"/>
<rect x="927" y="283" width="1" height="19" fill="#f5a9b1"/>
<rect x="925" y="283" width="5" height="16" fill="#eb4d5c"/>
<path d="M925.5,283.5h4v15h-4z" fill="none" stroke="#e33a4f" stroke-width="1" stroke-opacity="0.75"/>
<rect x="932" y="293" width="1" height="9" fill="#f5a9b1"/>
<rect x="930" y="293" width="5" height="9" fill="#eb4d5c"/>
<path d="M930.5,293.5h4v8h-4z" fill="none" stroke="#e33a4f" stroke-width="1" stroke-opacity="0.75"/>
<rect x="937" y="287" width="1" height="15" fill="#a3cbd3"/>
<rect x="935" y="293" width="5" height="6" fill="#53b987"/>
<path d="M935.5,293.5h4v5h-4z" fill="none" stroke="#45ae7b" stroke-width="1" stroke-opacity="0.75"/>
<rect x="943" y="287" width="1" height="15" fill="#f5a9b1"/>
<rect x="941" y="290" width="5" height="5" fill="#eb4d5c"/>
<path d="M941.5,290.5h4v4h-4z" fill="none" stroke="#e33a4f" stroke-width="1" stroke-opacity="0.75"/>
<rect x="948" y="293" width="1" height="6" fill="#a3cbd3"/>
<rect x="946" y="293" width="5" height="3" fill="#53b987"/>
<path d="M946.5,293.5h4v2h-4z" fill="none" stroke="#45ae7b" stroke-width="1" stroke-opacity="0.75"/>
<rect x="953" y="274" width="1" height="17" fill="#a3cbd3"/>
<rect x="951" y="280" width="5" height="11" fill="#53b987"/>
<path d="M951.5,280.5h4v10h-4z" fill="none" stroke="#45ae7b" stroke-width="1" stroke-opacity="0.75"/>
<rect x="959" y="277" width="1" height="14" fill="#a3cbd3"/>
<rect x="957" y="277" width="5" height="3" fill="#53b987"/>
<path d="M957.5,277.5h4v2h-4z" fill="none" stroke="#45ae7b" stroke-width="1" stroke-opacity="0.75"/>
<rect x="964" y="240" width="1" height="22" fill="#a3cbd3"/>
<rect x="962" y="246" width="5" height="13" fill="#53b987"/>
<path d="M962.5,246.5h4v12h-4z" fill="none" stroke="#45ae7b" stroke-width="1" stroke-opacity="0.75"/>
<rect x="969" y="246" width="1" height="13" fill="#a3cbd3"/>
<rect x="967" y="252" width="5" height="1" fill="#53b987"/>
<rect x="975" y="252" width="1" height="7" fill="#f5a9b1"/>
<rect x="973" y="252" width="5" height="7" fill="#eb4d5c"/>
<path d="M973.5,252.5h4v6h-4z" fill="none" stroke="#e33a4f" stroke-width="1" stroke-opacity="0.75"/>
<rect x="980" y="252" width="1" height="7" fill="#a3cbd3"/>
<rect x="978" y="252" width="5" height="7" fill="#53b987"/>
<path d="M978.5,252.5h4v6h-4z" fill="none" stroke="#45ae7b" stroke-width="1" stroke-opacity="0.75"/>
<rect x="985" y="246" width="1" height="32" fill="#f5a9b1"/>
<rect x="983" y="249" width="5" height="26" fill="#eb4d5c"/>
<path d="M983.5,249.5h4v25h-4z" fill="none" stroke="#e33a4f" stroke-width="1" stroke-opacity="0.75"/>
<rect x="990" y="258" width="1" height="17" fill="#a3cbd3"/>
<rect x="988" y="258" width="5" height="17" fill="#53b987"/>
<path d="M988.5,258.5h4v16h-4z" fill="none" stroke="#45ae7b" stroke-width="1" stroke-opacity="0.75"/>
<rect x="996" y="249" width="1" height="12" fill="#a3cbd3"/>
<rect x="994" y="252" width="5" height="1" fill="#53b987"/>
<rect x="1001" y="246" width="1" height="55" fill="#f5a9b1"/>
<rect x="999" y="252" width="5" height="12" fill="#eb4d5c"/>
<path d="M999.5,252.5h4v11h-4z" fill="none" stroke="#e33a4f" stroke-width="1" stroke-opacity="0.75"/>
<rect x="1006" y="249" width="1" height="12" fill="#a3cbd3"/>
<rect x="1004" y="249" width="5" height="1" fill="#53b987"/>
<rect x="1012" y="204" width="1" height="46" fill="#a3cbd3"/>
<rect x="1010" y="208" width="5" height="42" fill="#53b987"/>
<path d="M1010.5,208.5h4v41h-4z" fill="none" stroke="#45ae7b" stroke-width="1" stroke-opacity="0.75"/>
<rect x="1017" y="199" width="1" height="23" fill="#f5a9b1"/>
<rect x="1015" y="210" width="5" height="12" fill="#eb4d5c"/>
<path d="M1015.5,210.5h4v11h-4z" fill="none" stroke="#e33a4f" stroke-width="1" stroke-opacity="0.75"/>
<rect x="1022" y="213" width="1" height="28" fill="#f5a9b1"/>
<rect x="1020" y="222" width="5" height="10" fill="#eb4d5c"/>
<path d="M1020.5,222.5h4v9h-4z" fill="none" stroke="#e33a4f" stroke-width="1" stroke-opacity="0.75"/>
<rect x="1028" y="228" width="1" height="16" fill="#a3cbd3"/>
<rect x="1026" y="234" width="5" height="1" fill="#53b987"/>
<rect x="1033" y="232" width="1" height="18" fill="#f5a9b1"/>
<rect x="1031" y="234" width="5" height="16" fill="#eb4d5c"/>
<path d="M1031.5,234.5h4v15h-4z" fill="none" stroke="#e33a4f" stroke-width="1" stroke-opacity="0.75"/>
<rect x="1038" y="231" width="1" height="19" fill="#a3cbd3"/>
<rect x="1036" y="246" width="5" height="4" fill="#53b987"/>
<path d="M1036.5,246.5h4v3h-4z" fill="none" stroke="#45ae7b" stroke-width="1" stroke-opacity="0.75"/>
<rect x="1044" y="219" width="1" height="21" fill="#a3cbd3"/>
<rect x="1042" y="228" width="5" height="12" fill="#53b987"/>
<path d="M1042.5,228.5h4v11h-4z" fill="none" stroke="#45ae7b" stroke-width="1" stroke-opacity="0.75"/>
<rect x="1049" y="219" width="1" height="16" fill="#a3cbd3"/>
<rect x="1047" y="231" width="5" height="4" fill="#53b987"/>
<path d="M1047.5,231.5h4v3h-4z" fill="none" stroke="#45ae7b" stroke-width="1" stroke-opacity="0.75"/>
<rect x="1054" y="225" width="1" height="25" fill="#f5a9b1"/>
<rect x="1052" y="228" width="5" height="6" fill="#eb4d5c"/>
<path d="M1052.5,228.5h4v5h-4z" fill="none" stroke="#e33a4f" stroke-width="1" stroke-opacity="0.75"/>
<rect x="1059" y="210" width="1" height="19" fill="#a3cbd3"/>
<rect x="1057" y="222" width="5" height="7" fill="#53b987"/>
<path d="M1057.5,222.5h4v6h-4z" fill="none" stroke="#45ae7b" stroke-width="1" stroke-opacity="0.75"/>
<rect x="1065" y="213" width="1" height="22" fill="#a3cbd3"/>
<rect x="1063" y="222" width="5" height="1" fill="#53b987"/>
<rect x="1070" y="216" width="1" height="18" fill="#f5a9b1"/>
<rect x="1068" y="222" width="5" height="4" fill="#eb4d5c"/>
<path d="M1068.5,222.5h4v3h-4z" fill="none" stroke="#e33a4f" stroke-width="1" stroke-opacity="0.75"/>
<rect x="1075" y="216" width="1" height="16" fill="#f5a9b1"/>
<rect x="1073" y="222" width="5" height="4" fill="#eb4d5c"/>
<path d="M1073.5,222.5h4v3h-4z" fill="none" stroke="#e33a4f" stroke-width="1" stroke-opacity="0.75"/>
<rect x="1081" y="222" width="1" height="12" fill="#a3cbd3"/>
<rect x="1079" y="228" width="5" height="4" fill="#53b987"/>
<path d="M1079.5,228.5h4v3h-4z" fill="none" stroke="#45ae7b" stroke-width="1" stroke-opacity="0.75"/>
<rect x="1086" y="228" width="1" height="22" fill="#f5a9b1"/>
<rect x="1084" y="228" width="5" height="19" fill="#eb4d5c"/>
<path d="M1084.5,228.5h4v18h-4z" fill="none" stroke="#e33a4f" stroke-width="1" stroke-opacity="0.75"/>
<rect x="1091" y="252" width="1" height="32" fill="#f5a9b1"/>
<rect x="1089" y="255" width="5" height="25" fill="#eb4d5c"/>
<path d="M1089.5,255.5h4v24h-4z" fill="none" stroke="#e33a4f" stroke-width="1" stroke-opacity="0.75"/>
<rect x="1097" y="274" width="1" height="26" fill="#a3cbd3"/>
<rect x="1095" y="274" width="5" height="10" fill="#53b987"/>
<path d="M1095.5,274.5h4v9h-4z" fill="none" stroke="#45ae7b" stroke-width="1" stroke-opacity="0.75"/>
<rect x="1102" y="274" width="1" height="22" fill="#f5a9b1"/>
<rect x="1100" y="274" width="5" height="10" fill="#eb4d5c"/>
<path d="M1100.5,274.5h4v9h-4z" fill="none" stroke="#e33a4f" stroke-width="1" stroke-opacity="0.75"/>
<rect x="1107" y="280" width="1" height="22" fill="#a3cbd3"/>
<rect x="1105" y="280" width="5" height="4" fill="#53b987"/>
<path d="M1105.5,280.5h4v3h-4z" fill="none" stroke="#45ae7b" stroke-width="1" stroke-opacity="0.75"/>
<rect x="1113" y="264" width="1" height="69" fill="#a3cbd3"/>
<rect x="1111" y="264" width="5" height="36" fill="#53b987"/>
<path d="M1111.5,264.5h4v35h-4z" fill="none" stroke="#45ae7b" stroke-width="1" stroke-opacity="0.75"/>
<rect x="1118" y="277" width="1" height="13" fill="#f5a9b1"/>
<rect x="1116" y="287" width="5" height="3" fill="#eb4d5c"/>
<path d="M1116.5,287.5h4v2h-4z" fill="none" stroke="#e33a4f" stroke-width="1" stroke-opacity="0.75"/>
<rect x="1123" y="274" width="1" height="13" fill="#a3cbd3"/>
<rect x="1121" y="277" width="5" height="7" fill="#53b987"/>
<path d="M1121.5,277.5h4v6h-4z" fill="none" stroke="#45ae7b" stroke-width="1" stroke-opacity="0.75"/>
<rect x="1129" y="277" width="1" height="19" fill="#a3cbd3"/>
<rect x="1127" y="277" width="5" height="7" fill="#53b987"/>
<path d="M1127.5,277.5h4v6h-4z" fill="none" stroke="#45ae7b" stroke-width="1" stroke-opacity="0.75"/>
<rect x="1134" y="258" width="1" height="20" fill="#a3cbd3"/>
<rect x="1132" y="261" width="5" height="17" fill="#53b987"/>
<path d="M1132.5,261.5h4v16h-4z" fill="none" stroke="#45ae7b" stroke-width="1" stroke-opacity="0.75"/>
<rect x="1139" y="246" width="1" height="12" fill="#a3cbd3"/>
<rect x="1137" y="246" width="5" height="12" fill="#53b987"/>
<path d="M1137.5,246.5h4v11h-4z" fill="none" stroke="#45ae7b" stroke-width="1" stroke-opacity="0.75"/>
<rect x="1144" y="237" width="1" height="21" fill="#f5a9b1"/>
<rect x="1142" y="246" width="5" height="3" fill="#eb4d5c"/>
<path d="M1142.5,246.5h4v2h-4z" fill="none" stroke="#e33a4f" stroke-width="1" stroke-opacity="0.75"/>
<rect x="1150" y="249" width="1" height="22" fill="#f5a9b1"/>
<rect x="1148" y="258" width="5" height="13" fill="#eb4d5c"/>
<path d="M1148.5,258.5h4v12h-4z" fill="none" stroke="#e33a4f" stroke-width="1" stroke-opacity="0.75"/>
<rect x="1155" y="255" width="1" height="10" fill="#a3cbd3"/>
<rect x="1153" y="255" width="5" height="10" fill="#53b987"/>
<path d="M1153.5,255.5h4v9h-4z" fill="none" stroke="#45ae7b" stroke-width="1" stroke-opacity="0.75"/>
<rect x="1160" y="249" width="1" height="16" fill="#a3cbd3"/>
<rect x="1158" y="249" width="5" height="13" fill="#53b987"/>
<path d="M1158.5,249.5h4v12h-4z" fill="none" stroke="#45ae7b" stroke-width="1" stroke-opacity="0.75"/>
<rect x="1166" y="240" width="1" height="25" fill="#f5a9b1"/>
<rect x="1164" y="249" width="5" height="13" fill="#eb4d5c"/>
<path d="M1164.5,249.5h4v12h-4z" fill="none" stroke="#e33a4f" stroke-width="1" stroke-opacity="0.75"/>
<rect x="1171" y="243" width="1" height="15" fill="#a3cbd3"/>
<rect x="1169" y="246" width="5" height="12" fill="#53b987"/>
<path d="M1169.5,246.5h4v11h-4z" fill="none" stroke="#45ae7b" stroke-width="1" stroke-opacity="0.75"/>
<rect x="1176" y="219" width="1" height="25" fill="#a3cbd3"/>
<rect x="1174" y="225" width="5" height="16" fill="#53b987"/>
<path d="M1174.5,225.5h4v15h-4z" fill="none" stroke="#45ae7b" stroke-width="1" stroke-opacity="0.75"/>
<rect x="1182" y="200" width="1" height="22" fill="#a3cbd3"/>
<rect x="1180" y="213" width="5" height="9" fill="#53b987"/>
<path d="M1180.5,213.5h4v8h-4z" fill="none" stroke="#45ae7b" stroke-width="1" stroke-opacity="0.75"/>
<rect x="1187" y="181" width="1" height="32" fill="#a3cbd3"/>
<rect x="1185" y="181" width="5" height="30" fill="#53b987"/>
<path d="M1185.5,181.5h4v29h-4z" fill="none" stroke="#45ae7b" stroke-width="1" stroke-opacity="0.75"/>
<rect x="1192" y="184" width="1" height="16" fill="#f5a9b1"/>
<rect x="1190" y="184" width="5" height="10" fill="#eb4d5c"/>
<path d="M1190.5,184.5h4v9h-4z" fill="none" stroke="#e33a4f" stroke-width="1" stroke-opacity="0.75"/>
<rect x="1198" y="187" width="1" height="32" fill="#f5a9b1"/>
<rect x="1196" y="193" width="5" height="23" fill="#eb4d5c"/>
<path d="M1196.5,193.5h4v22h-4z" fill="none" stroke="#e33a4f" stroke-width="1" stroke-opacity="0.75"/>
<rect x="1203" y="193" width="1" height="23" fill="#a3cbd3"/>
<rect x="1201" y="199" width="5" height="17" fill="#53b987"/>
<path d="M1201.5,199.5h4v16h-4z" fill="none" stroke="#45ae7b" stroke-width="1" stroke-opacity="0.75"/>
<rect x="1208" y="165" width="1" height="40" fill="#a3cbd3"/>
<rect x="1206" y="170" width="5" height="35" fill="#53b987"/>
<path d="M1206.5,170.5h4v34h-4z" fill="none" stroke="#45ae7b" stroke-width="1" stroke-opacity="0.75"/>
<rect x="1213" y="167" width="1" height="23" fill="#a3cbd3"/>
<rect x="1211" y="173" width="5" height="4" fill="#53b987"/>
<path d="M1211.5,173.5h4v3h-4z" fill="none" stroke="#45ae7b" stroke-width="1" stroke-opacity="0.75"/>
<rect x="1219" y="162" width="1" height="11" fill="#a3cbd3"/>
<rect x="1217" y="162" width="5" height="11" fill="#53b987"/>
<path d="M1217.5,162.5h4v10h-4z" fill="none" stroke="#45ae7b" stroke-width="1" stroke-opacity="0.75"/>
<rect x="1224" y="162" width="1" height="32" fill="#a3cbd3"/>
<rect x="1222" y="165" width="5" height="29" fill="#53b987"/>
<path d="M1222.5,165.5h4v28h-4z" fill="none" stroke="#45ae7b" stroke-width="1" stroke-opacity="0.75"/>
<rect x="1229" y="159" width="1" height="21" fill="#f5a9b1"/>
<rect x="1227" y="165" width="5" height="9" fill="#eb4d5c"/>
<path d="M1227.5,165.5h4v8h-4z" fill="none" stroke="#e33a4f" stroke-width="1" stroke-opacity="0.75"/>
<rect x="1235" y="127" width="1" height="55" fill="#a3cbd3"/>
<rect x="1233" y="140" width="5" height="34" fill="#53b987"/>
<path d="M1233.5,140.5h4v33h-4z" fill="none" stroke="#45ae7b" stroke-width="1" stroke-opacity="0.75"/>
<rect x="1240" y="127" width="1" height="22" fill="#f5a9b1"/>
<rect x="1238" y="137" width="5" height="7" fill="#eb4d5c"/>
<path d="M1238.5,137.5h4v6h-4z" fill="none" stroke="#e33a4f" stroke-width="1" stroke-opacity="0.75"/>
<rect x="1245" y="140" width="1" height="14" fill="#a3cbd3"/>
<rect x="1243" y="145" width="5" height="4" fill="#53b987"/>
<path d="M1243.5,145.5h4v3h-4z" fill="none" stroke="#45ae7b" stroke-width="1" stroke-opacity="0.75"/>
<rect x="1251" y="143" width="1" height="17" fill="#f5a9b1"/>
<rect x="1249" y="148" width="5" height="4" fill="#eb4d5c"/>
<path d="M1249.5,148.5h4v3h-4z" fill="none" stroke="#e33a4f" stroke-width="1" stroke-opacity="0.75"/>
<rect x="1256" y="127" width="1" height="25" fill="#a3cbd3"/>
<rect x="1254" y="143" width="5" height="9" fill="#53b987"/>
<path d="M1254.5,143.5h4v8h-4z" fill="none" stroke="#45ae7b" stroke-width="1" stroke-opacity="0.75"/>
<rect x="1261" y="132" width="1" height="45" fill="#f5a9b1"/>
<rect x="1259" y="140" width="5" height="28" fill="#eb4d5c"/>
<path d="M1259.5,140.5h4v27h-4z" fill="none" stroke="#e33a4f" stroke-width="1" stroke-opacity="0.75"/>
<rect x="1267" y="162" width="1" height="20" fill="#a3cbd3"/>
<rect x="1265" y="162" width="5" height="4" fill="#53b987"/>
<path d="M1265.5,162.5h4v3h-4z" fill="none" stroke="#45ae7b" stroke-width="1" stroke-opacity="0.75"/>
<rect x="1272" y="148" width="1" height="15" fill="#a3cbd3"/>
<rect x="1270" y="151" width="5" height="12" fill="#53b987"/>
<path d="M1270.5,151.5h4v11h-4z" fill="none" stroke="#45ae7b" stroke-width="1" stroke-opacity="0.75"/>
<rect x="1277" y="118" width="1" height="36" fill="#a3cbd3"/>
<rect x="1275" y="129" width="5" height="25" fill="#53b987"/>
<path d="M1275.5,129.5h4v24h-4z" fill="none" stroke="#45ae7b" stroke-width="1" stroke-opacity="0.75"/>
<rect x="1282" y="121" width="1" height="17" fill="#a3cbd3"/>
<rect x="1280" y="127" width="5" height="1" fill="#53b987"/>
<rect x="1288" y="68" width="1" height="44" fill="#a3cbd3"/>
<rect x="1286" y="68" width="5" height="23" fill="#53b987"/>
<path d="M1286.5,68.5h4v22h-4z" fill="none" stroke="#45ae7b" stroke-width="1" stroke-opacity="0.75"/>
</g>
<circle cx="402.5" cy="371.5" r="10.7" fill="#88de56" stroke="#7bd049" stroke-width="0.7"/>
<text x="402.5" y="374.2" font-size="9.8" fill="#0a0a0a" font-weight="bold" text-anchor="middle" textLength="5.2" lengthAdjust="spacingAndGlyphs">B</text>
<circle cx="694.5" cy="198.5" r="10.7" fill="#88de56" stroke="#7bd049" stroke-width="0.7"/>
<text x="694.5" y="201.2" font-size="9.8" fill="#0a0a0a" font-weight="bold" text-anchor="middle" textLength="5.2" lengthAdjust="spacingAndGlyphs">B</text>
<circle cx="1087.5" cy="204.5" r="10.7" fill="#88de56" stroke="#7bd049" stroke-width="0.7"/>
<text x="1087.5" y="207.2" font-size="9.8" fill="#0a0a0a" font-weight="bold" text-anchor="middle" textLength="5.2" lengthAdjust="spacingAndGlyphs">B</text>
<circle cx="90" cy="578.9" r="12.2" fill="none" stroke="#0ac80a" stroke-width="1.6"/>
<text x="90.1" y="581.9" font-size="12.4" fill="#0ac80a" font-weight="normal" text-anchor="middle" textLength="6" lengthAdjust="spacingAndGlyphs">F</text>
<circle cx="100" cy="578.9" r="12.2" fill="none" stroke="#0ac80a" stroke-width="1.6"/>
<text x="100.1" y="581.9" font-size="12.4" fill="#0ac80a" font-weight="normal" text-anchor="middle" textLength="6" lengthAdjust="spacingAndGlyphs">F</text>
<circle cx="424" cy="578.9" r="12.2" fill="none" stroke="#0ac80a" stroke-width="1.6"/>
<text x="424.1" y="581.9" font-size="12.4" fill="#0ac80a" font-weight="normal" text-anchor="middle" textLength="6" lengthAdjust="spacingAndGlyphs">F</text>
<circle cx="759" cy="578.9" r="12.2" fill="none" stroke="#0ac80a" stroke-width="1.6"/>
<text x="759.1" y="581.9" font-size="12.4" fill="#0ac80a" font-weight="normal" text-anchor="middle" textLength="6" lengthAdjust="spacingAndGlyphs">F</text>
<circle cx="1104" cy="579" r="12.95" fill="#00c800"/>
<text x="1104.3" y="581.9" font-size="12.4" fill="#fff" font-weight="normal" text-anchor="middle" textLength="6.3" lengthAdjust="spacingAndGlyphs" stroke="#fff" stroke-width="0.3">F</text>
<line x1="3" y1="68.5" x2="1444" y2="68.5" stroke="#53b987" stroke-width="1" stroke-dasharray="1.8,1.2" shape-rendering="crispEdges"/>
<rect x="33" y="69" width="143" height="24" fill="#fff" fill-opacity="0.47" shape-rendering="crispEdges"/>
<rect x="33" y="93" width="119" height="24" fill="#fff" fill-opacity="0.47" shape-rendering="crispEdges"/>
<rect x="33" y="117" width="149" height="24" fill="#fff" fill-opacity="0.47" shape-rendering="crispEdges"/>
<rect x="33" y="141" width="125" height="24" fill="#fff" fill-opacity="0.47" shape-rendering="crispEdges"/>
<rect x="33" y="165" width="143" height="24" fill="#fff" fill-opacity="0.47" shape-rendering="crispEdges"/>
<rect x="33" y="189" width="136" height="24" fill="#fff" fill-opacity="0.47" shape-rendering="crispEdges"/>
<text x="39" y="85.2" font-size="13" fill="#555" font-weight="normal" text-anchor="start" textLength="79" lengthAdjust="spacingAndGlyphs">MA 50 close 0</text>
<text x="127.5" y="85.2" font-size="13" fill="#2020ff" font-weight="normal" text-anchor="start" textLength="45" lengthAdjust="spacingAndGlyphs">14.9790</text>
<text x="39" y="108.7" font-size="13" fill="#b8bac2" font-weight="normal" text-anchor="start" textLength="79" lengthAdjust="spacingAndGlyphs">MA 10 close 0</text>
<g transform="translate(138,103.8)" fill="none" stroke="#1c1f2a" stroke-width="1.15"><path d="M-8,0 C-5.5,-4.2 -2.5,-5.9 0,-5.9 C1,-5.9 2,-5.7 3,-5.3 M5.2,-3.6 C6.4,-2.6 7.3,-1.3 8,0 C5.5,4.2 2.5,5.9 0,5.9 C-1,5.9 -2,5.7 -3,5.3 M-5.2,3.6 C-6.4,2.6 -7.3,1.3 -8,0"/><circle r="2.8"/><line x1="-5.9" y1="6.1" x2="5.9" y2="-6.0" stroke-width="1.3"/></g>
<text x="39" y="132.79999999999998" font-size="13" fill="#555" font-weight="normal" text-anchor="start" textLength="85.5" lengthAdjust="spacingAndGlyphs">MA 200 close 0</text>
<text x="134" y="132.79999999999998" font-size="13" fill="#a82aff" font-weight="normal" text-anchor="start" textLength="44.5" lengthAdjust="spacingAndGlyphs">13.8023</text>
<text x="39" y="156.6" font-size="13" fill="#b8bac2" font-weight="normal" text-anchor="start" textLength="85.5" lengthAdjust="spacingAndGlyphs">MA 150 close 0</text>
<g transform="translate(145.3,151.70000000000002)" fill="none" stroke="#1c1f2a" stroke-width="1.15"><path d="M-8,0 C-5.5,-4.2 -2.5,-5.9 0,-5.9 C1,-5.9 2,-5.7 3,-5.3 M5.2,-3.6 C6.4,-2.6 7.3,-1.3 8,0 C5.5,4.2 2.5,5.9 0,5.9 C-1,5.9 -2,5.7 -3,5.3 M-5.2,3.6 C-6.4,2.6 -7.3,1.3 -8,0"/><circle r="2.8"/><line x1="-5.9" y1="6.1" x2="5.9" y2="-6.0" stroke-width="1.3"/></g>
<text x="39" y="180.89999999999998" font-size="13" fill="#555" font-weight="normal" text-anchor="start" textLength="79" lengthAdjust="spacingAndGlyphs">MA 10 close 0</text>
<text x="127.5" y="180.89999999999998" font-size="13" fill="#f44336" font-weight="normal" text-anchor="start" textLength="45" lengthAdjust="spacingAndGlyphs">16.2850</text>
<text x="39" y="205.0" font-size="13" fill="#555" font-weight="normal" text-anchor="start" textLength="72" lengthAdjust="spacingAndGlyphs">MA 5 close 0</text>
<text x="120.5" y="205.0" font-size="13" fill="#222" font-weight="normal" text-anchor="start" textLength="44.5" lengthAdjust="spacingAndGlyphs">16.5000</text>
<rect x="11.5" y="70.5" width="20" height="20" rx="3" fill="#fff" stroke="#d9dce4"/>
<path d="M17.5,79 L21.5,82.7 L25.5,79" fill="none" stroke="#131722" stroke-width="1.6"/>
<rect x="11.5" y="601.5" width="20" height="20" rx="3" fill="#fff" stroke="#d9dce4"/>
<path d="M17.5,609.6 L21.5,613.3 L25.5,609.6" fill="none" stroke="#131722" stroke-width="1.6"/>
<rect x="34" y="600" width="166" height="22" fill="#fff" fill-opacity="0.6"/>
<text x="39.3" y="615.7" font-size="12.5" fill="#555" font-weight="normal" text-anchor="start" textLength="59.3" lengthAdjust="spacingAndGlyphs">Volume 50</text>
<text x="108.6" y="615.7" font-size="12.5" fill="#10e010" font-weight="normal" text-anchor="start" textLength="41.5" lengthAdjust="spacingAndGlyphs">7.313M</text>
<text x="155" y="615.7" font-size="12.5" fill="#222" font-weight="normal" text-anchor="start" textLength="42" lengthAdjust="spacingAndGlyphs">2.363M</text>
<text x="12.2" y="62" font-size="15.5" fill="#23252e" font-weight="normal" text-anchor="start" textLength="336.3" lengthAdjust="spacingAndGlyphs">Tổng Công ty Phát triển Đô Thị Kinh Bắc - CTCP</text>
<text x="355.3" y="62" font-size="15.5" fill="#23252e" font-weight="normal" text-anchor="middle">·</text>
<text x="362.5" y="62" font-size="15.5" fill="#23252e" font-weight="normal" text-anchor="start" textLength="17.5" lengthAdjust="spacingAndGlyphs">1D</text>
<text x="386.3" y="62" font-size="15.5" fill="#23252e" font-weight="normal" text-anchor="middle">·</text>
<text x="393.4" y="62" font-size="15.5" fill="#23252e" font-weight="normal" text-anchor="start" textLength="25.5" lengthAdjust="spacingAndGlyphs">HSX</text>
<text x="429.7" y="62" font-size="13" fill="#777" font-weight="normal" text-anchor="start" textLength="8.5" lengthAdjust="spacingAndGlyphs">O</text>
<text x="438.7" y="62" font-size="13" fill="#53b987" font-weight="normal" text-anchor="start" textLength="31.5" lengthAdjust="spacingAndGlyphs">17.20</text>
<text x="477" y="62" font-size="13" fill="#777" font-weight="normal" text-anchor="start" textLength="9" lengthAdjust="spacingAndGlyphs">H</text>
<text x="486.5" y="62" font-size="13" fill="#53b987" font-weight="normal" text-anchor="start" textLength="31.5" lengthAdjust="spacingAndGlyphs">17.65</text>
<text x="525" y="62" font-size="13" fill="#777" font-weight="normal" text-anchor="start" textLength="6.5" lengthAdjust="spacingAndGlyphs">L</text>
<text x="532.0" y="62" font-size="13" fill="#53b987" font-weight="normal" text-anchor="start" textLength="31.5" lengthAdjust="spacingAndGlyphs">16.80</text>
<text x="571" y="62" font-size="13" fill="#777" font-weight="normal" text-anchor="start" textLength="7.5" lengthAdjust="spacingAndGlyphs">C</text>
<text x="579.0" y="62" font-size="13" fill="#53b987" font-weight="normal" text-anchor="start" textLength="31.5" lengthAdjust="spacingAndGlyphs">17.65</text>
<text x="616" y="62" font-size="13" fill="#53b987" font-weight="normal" text-anchor="start" textLength="32" lengthAdjust="spacingAndGlyphs">+1.15</text>
<text x="653" y="62" font-size="13" fill="#53b987" font-weight="normal" text-anchor="start" textLength="48" lengthAdjust="spacingAndGlyphs">(+6.97%)</text>
<circle cx="1319" cy="58" r="3" fill="#9a9a9a"/>
<text x="1327" y="62" font-size="12" fill="#9a9a9a" font-weight="normal" text-anchor="start" textLength="111" lengthAdjust="spacingAndGlyphs">Thị trường Đóng cửa</text>
<circle cx="663.8" cy="807.8" r="14" fill="#fff" fill-opacity="0.78"/>
<circle cx="699.7" cy="807.8" r="14" fill="#fff" fill-opacity="0.78"/>
<circle cx="749.5" cy="807.8" r="14" fill="#fff" fill-opacity="0.78"/>
<circle cx="785.9" cy="807.8" r="14" fill="#fff" fill-opacity="0.78"/>
<circle cx="835.8" cy="807.8" r="14" fill="#fff" fill-opacity="0.78"/>
<g stroke="#4c505c" stroke-width="1.9" fill="none" stroke-linejoin="miter">
<line x1="658.4" y1="807.8" x2="669.4" y2="807.8"/>
<line x1="694.3" y1="807.8" x2="705.3" y2="807.8"/><line x1="699.8" y1="802.3" x2="699.8" y2="813.3"/>
<path d="M752.3,802 L746.6,807.8 L752.3,813.6"/>
<path d="M784.3,802 L790,807.8 L784.3,813.6"/>
<path d="M830.4,806.5 A6.1,6.1 0 1 0 836.3,802.4 L831.6,802.4 M834.6,799.2 L831.4,802.4 L834.6,805.6"/>
</g>
<circle cx="27.3" cy="799" r="15.7" fill="#fff" stroke="#000" stroke-opacity="0.07" stroke-width="1"/>
<g fill="#2e9df2"><circle cx="21.8" cy="799.6" r="4.3"/><circle cx="27.7" cy="796.5" r="4.7"/><circle cx="33.6" cy="799.9" r="4.1"/><rect x="18.2" y="798.5" width="19" height="5.8" rx="2"/></g>
<path d="M17.3,801.6 L24.4,795.9 L30.6,801.9 L37.2,796.7" fill="none" stroke="#fff" stroke-width="1.5" stroke-linejoin="round"/>
<circle cx="24.4" cy="795.9" r="1.3" fill="#fff"/><circle cx="30.6" cy="801.9" r="1.3" fill="#fff"/>
<g shape-rendering="crispEdges">
<rect x="3" y="594" width="1493" height="1" fill="#464646"/>
<rect x="1444" y="40" width="1" height="815" fill="#444"/>
<rect x="3" y="829" width="1493" height="1" fill="#444"/>
<rect x="1496" y="0" width="1" height="858" fill="#cfcfd2"/>
<rect x="0" y="855" width="1497" height="1" fill="#e0e3eb"/>
<rect x="1445" y="51.0" width="4" height="1" fill="#444"/>
<rect x="1445" y="101.0" width="4" height="1" fill="#444"/>
<rect x="1445" y="154.0" width="4" height="1" fill="#444"/>
<rect x="1445" y="210.0" width="4" height="1" fill="#444"/>
<rect x="1445" y="240.0" width="4" height="1" fill="#444"/>
<rect x="1445" y="271.0" width="4" height="1" fill="#444"/>
<rect x="1445" y="302.0" width="4" height="1" fill="#444"/>
<rect x="1445" y="342.0" width="4" height="1" fill="#444"/>
<rect x="1445" y="384.0" width="4" height="1" fill="#444"/>
<rect x="1445" y="413.0" width="4" height="1" fill="#444"/>
<rect x="1445" y="443.0" width="4" height="1" fill="#444"/>
<rect x="1445" y="474.0" width="4" height="1" fill="#444"/>
<rect x="1445" y="506.0" width="4" height="1" fill="#444"/>
<rect x="1445" y="539.0" width="4" height="1" fill="#444"/>
<rect x="1445" y="570.0" width="4" height="1" fill="#444"/>
<rect x="1445" y="612.0" width="4" height="1" fill="#444"/>
<rect x="1445" y="653.0" width="4" height="1" fill="#444"/>
<rect x="1445" y="694.0" width="4" height="1" fill="#444"/>
<rect x="1445" y="735.0" width="4" height="1" fill="#444"/>
<rect x="1445" y="775.0" width="4" height="1" fill="#444"/>
<rect x="1445" y="816.0" width="4" height="1" fill="#444"/>
<rect x="9.0" y="830" width="1" height="4" fill="#444"/>
<rect x="99.0" y="830" width="1" height="4" fill="#444"/>
<rect x="206.0" y="830" width="1" height="4" fill="#444"/>
<rect x="322.0" y="830" width="1" height="4" fill="#444"/>
<rect x="429.0" y="830" width="1" height="4" fill="#444"/>
<rect x="535.0" y="830" width="1" height="4" fill="#444"/>
<rect x="652.0" y="830" width="1" height="4" fill="#444"/>
<rect x="774.0" y="830" width="1" height="4" fill="#444"/>
<rect x="885.0" y="830" width="1" height="4" fill="#444"/>
<rect x="997.0" y="830" width="1" height="4" fill="#444"/>
<rect x="1114.0" y="830" width="1" height="4" fill="#444"/>
<rect x="1225.0" y="830" width="1" height="4" fill="#444"/>
<rect x="1347.0" y="830" width="1" height="4" fill="#444"/>
<rect x="1427.0" y="830" width="1" height="4" fill="#444"/>
</g>
<text x="1453.8" y="55.7" font-size="11" fill="#555" font-weight="normal" text-anchor="start" textLength="26.4" lengthAdjust="spacingAndGlyphs">18.00</text>
<text x="1453.8" y="105.7" font-size="11" fill="#555" font-weight="normal" text-anchor="start" textLength="26.4" lengthAdjust="spacingAndGlyphs">17.00</text>
<text x="1453.8" y="158.7" font-size="11" fill="#555" font-weight="normal" text-anchor="start" textLength="26.4" lengthAdjust="spacingAndGlyphs">16.00</text>
<text x="1453.8" y="214.7" font-size="11" fill="#555" font-weight="normal" text-anchor="start" textLength="26.4" lengthAdjust="spacingAndGlyphs">15.00</text>
<text x="1453.8" y="244.7" font-size="11" fill="#555" font-weight="normal" text-anchor="start" textLength="26.4" lengthAdjust="spacingAndGlyphs">14.50</text>
<text x="1453.8" y="275.7" font-size="11" fill="#555" font-weight="normal" text-anchor="start" textLength="26.4" lengthAdjust="spacingAndGlyphs">14.00</text>
<text x="1453.8" y="306.7" font-size="11" fill="#555" font-weight="normal" text-anchor="start" textLength="26.4" lengthAdjust="spacingAndGlyphs">13.50</text>
<text x="1453.8" y="346.7" font-size="11" fill="#555" font-weight="normal" text-anchor="start" textLength="26.4" lengthAdjust="spacingAndGlyphs">12.90</text>
<text x="1453.8" y="388.7" font-size="11" fill="#555" font-weight="normal" text-anchor="start" textLength="26.4" lengthAdjust="spacingAndGlyphs">12.30</text>
<text x="1453.8" y="417.7" font-size="11" fill="#555" font-weight="normal" text-anchor="start" textLength="26.4" lengthAdjust="spacingAndGlyphs">11.90</text>
<text x="1453.8" y="447.7" font-size="11" fill="#555" font-weight="normal" text-anchor="start" textLength="26.4" lengthAdjust="spacingAndGlyphs">11.50</text>
<text x="1453.8" y="478.7" font-size="11" fill="#555" font-weight="normal" text-anchor="start" textLength="26.4" lengthAdjust="spacingAndGlyphs">11.10</text>
<text x="1453.8" y="510.7" font-size="11" fill="#555" font-weight="normal" text-anchor="start" textLength="26.4" lengthAdjust="spacingAndGlyphs">10.70</text>
<text x="1453.8" y="543.7" font-size="11" fill="#555" font-weight="normal" text-anchor="start" textLength="26.4" lengthAdjust="spacingAndGlyphs">10.30</text>
<text x="1453.8" y="574.7" font-size="11" fill="#555" font-weight="normal" text-anchor="start" textLength="20.6" lengthAdjust="spacingAndGlyphs">9.95</text>
<text x="1453.8" y="616.7" font-size="11" fill="#555" font-weight="normal" text-anchor="start">10M</text>
<text x="1453.8" y="657.7" font-size="11" fill="#555" font-weight="normal" text-anchor="start">8M</text>
<text x="1453.8" y="698.7" font-size="11" fill="#555" font-weight="normal" text-anchor="start">6M</text>
<text x="1453.8" y="739.7" font-size="11" fill="#555" font-weight="normal" text-anchor="start">4M</text>
<text x="1453.8" y="779.7" font-size="11" fill="#555" font-weight="normal" text-anchor="start">2M</text>
<text x="1453.8" y="820.7" font-size="11" fill="#555" font-weight="normal" text-anchor="start">0</text>
<rect x="1444" y="60" width="45" height="17" fill="#53b987"/>
<rect x="1445" y="68" width="4" height="1" fill="#fff"/>
<text x="1453.8" y="71.9" font-size="11" fill="#fff" font-weight="bold" text-anchor="start" textLength="26.4" lengthAdjust="spacingAndGlyphs">17.65</text>
<text x="9.5" y="847.8" font-size="11" fill="#555" font-weight="normal" text-anchor="middle" textLength="26" lengthAdjust="spacingAndGlyphs">2020</text>
<text x="99.5" y="847.8" font-size="11" fill="#555" font-weight="normal" text-anchor="middle" textLength="48.6" lengthAdjust="spacingAndGlyphs">Tháng Hai</text>
<text x="206.5" y="847.8" font-size="11" fill="#555" font-weight="normal" text-anchor="middle" textLength="38" lengthAdjust="spacingAndGlyphs">Tháng 3</text>
<text x="322.5" y="847.8" font-size="11" fill="#555" font-weight="normal" text-anchor="middle" textLength="38" lengthAdjust="spacingAndGlyphs">Tháng 4</text>
<text x="429.5" y="847.8" font-size="11" fill="#555" font-weight="normal" text-anchor="middle" textLength="54" lengthAdjust="spacingAndGlyphs">Tháng Năm</text>
<text x="535.5" y="847.8" font-size="11" fill="#555" font-weight="normal" text-anchor="middle" textLength="38" lengthAdjust="spacingAndGlyphs">Tháng 6</text>
<text x="652.5" y="847.8" font-size="11" fill="#555" font-weight="normal" text-anchor="middle" textLength="38" lengthAdjust="spacingAndGlyphs">Tháng 7</text>
<text x="774.5" y="847.8" font-size="11" fill="#555" font-weight="normal" text-anchor="middle" textLength="53" lengthAdjust="spacingAndGlyphs">Tháng Tám</text>
<text x="885.5" y="847.8" font-size="11" fill="#555" font-weight="normal" text-anchor="middle" textLength="38" lengthAdjust="spacingAndGlyphs">Tháng 9</text>
<text x="997.5" y="847.8" font-size="11" fill="#555" font-weight="normal" text-anchor="middle" textLength="44" lengthAdjust="spacingAndGlyphs">Tháng 10</text>
<text x="1114.5" y="847.8" font-size="11" fill="#555" font-weight="normal" text-anchor="middle" textLength="44" lengthAdjust="spacingAndGlyphs">Tháng 11</text>
<text x="1225.5" y="847.8" font-size="11" fill="#555" font-weight="normal" text-anchor="middle" textLength="76" lengthAdjust="spacingAndGlyphs">Tháng Mười hai</text>
<text x="1347.5" y="847.8" font-size="11" fill="#555" font-weight="bold" text-anchor="middle" textLength="25" lengthAdjust="spacingAndGlyphs">2021</text>
<text x="1427.5" y="847.8" font-size="11" fill="#555" font-weight="normal" text-anchor="middle" textLength="11" lengthAdjust="spacingAndGlyphs">22</text>
<g transform="translate(1469.4,843.5)" fill="none" stroke="#10121a" stroke-width="1.3"><circle r="4.7"/>
<line x1="5.20" y1="0.00" x2="7.70" y2="0.00"/>
<line x1="3.68" y1="3.68" x2="5.09" y2="5.09"/>
<line x1="0.00" y1="5.20" x2="0.00" y2="7.70"/>
<line x1="-3.68" y1="3.68" x2="-5.09" y2="5.09"/>
<line x1="-5.20" y1="0.00" x2="-7.70" y2="0.00"/>
<line x1="-3.68" y1="-3.68" x2="-5.09" y2="-5.09"/>
<line x1="-0.00" y1="-5.20" x2="-0.00" y2="-7.70"/>
<line x1="3.68" y1="-3.68" x2="5.09" y2="-5.09"/>
</g>
<rect x="0" y="40" width="3" height="818" fill="#dee0ea" shape-rendering="crispEdges"/>
<rect x="0" y="0" width="1497" height="39" fill="#fff"/>
<g shape-rendering="crispEdges">
<rect x="0" y="39" width="1497" height="1" fill="#e0e3eb"/>
<rect x="0" y="0" width="3" height="40" fill="#dee0ea"/>
<rect x="103.0" y="0" width="1" height="39" fill="#e0e3eb"/>
<rect x="141.0" y="0" width="1" height="39" fill="#e0e3eb"/>
<rect x="180.0" y="0" width="1" height="39" fill="#e0e3eb"/>
<rect x="273.0" y="0" width="1" height="39" fill="#e0e3eb"/>
<rect x="390.0" y="0" width="1" height="39" fill="#e0e3eb"/>
<rect x="453.0" y="0" width="1" height="39" fill="#e0e3eb"/>
<rect x="530.0" y="0" width="1" height="39" fill="#e0e3eb"/>
<rect x="606.0" y="0" width="1" height="39" fill="#e0e3eb"/>
<rect x="644.0" y="0" width="1" height="39" fill="#e0e3eb"/>
<rect x="1325.0" y="0" width="1" height="39" fill="#e0e3eb"/>
<rect x="1364.0" y="0" width="1" height="39" fill="#e0e3eb"/>
<rect x="1402.0" y="0" width="1" height="39" fill="#e0e3eb"/>
<rect x="1450.0" y="0" width="1" height="39" fill="#e0e3eb"/>
<rect x="108" y="0" width="63" height="1" fill="#26a69a"/>
</g>
<text x="15" y="24.6" font-size="13" fill="#0b0d14" font-weight="bold" text-anchor="start" textLength="25.5" lengthAdjust="spacingAndGlyphs">KBC</text>
<text x="118.8" y="24.8" font-size="13.5" fill="#0b0d14" font-weight="normal" text-anchor="start" textLength="7.6" lengthAdjust="spacingAndGlyphs" stroke="#0b0d14" stroke-width="0.22">D</text>
<g fill="none" stroke="#0b0d14" stroke-width="1" shape-rendering="crispEdges"><rect x="155.5" y="13.5" width="3" height="13"/><line x1="157" y1="9.5" x2="157" y2="13.5"/><line x1="157" y1="26.5" x2="157" y2="30"/><rect x="164.5" y="16.5" width="3" height="7"/><line x1="166" y1="13" x2="166" y2="16.5"/><line x1="166" y1="23.5" x2="166" y2="27"/></g>
<g fill="none" stroke="#0b0d14" stroke-width="1.1"><circle cx="199.4" cy="20.3" r="9"/><line x1="195" y1="20.3" x2="203.8" y2="20.3"/><line x1="199.4" y1="15.9" x2="199.4" y2="24.7"/></g>
<text x="216.5" y="24.8" font-size="13.5" fill="#0b0d14" font-weight="normal" text-anchor="start" textLength="46" lengthAdjust="spacingAndGlyphs" stroke="#0b0d14" stroke-width="0.22">So sánh</text>
<g fill="none" stroke="#0b0d14" stroke-width="1.1"><path d="M282.5,19.2 C284.5,16.5 286.3,14.2 288.5,14.2 C291,14.2 292.6,19.8 295.1,19.8 C297,19.8 298.8,16.6 300.6,14.3"/><line x1="295" y1="26.4" x2="303.6" y2="26.4"/><line x1="299.3" y1="22.1" x2="299.3" y2="30.7"/></g>
<text x="309" y="24.8" font-size="13.5" fill="#0b0d14" font-weight="normal" text-anchor="start" textLength="71" lengthAdjust="spacingAndGlyphs" stroke="#0b0d14" stroke-width="0.22">Các chỉ báo</text>
<path d="M406.5,15 L402,19.5 L406.5,24 M402.3,19.5 L409,19.5 C413,19.5 414.5,22.5 414,26" fill="none" stroke="#0b0d14" stroke-width="1.1"/>
<path d="M436.5,15 L441,19.5 L436.5,24 M440.7,19.5 L434,19.5 C430,19.5 428.5,22.5 429,26" fill="none" stroke="#c4c6cc" stroke-width="1.1"/>
<text x="464" y="24.8" font-size="13.5" fill="#0b0d14" font-weight="normal" text-anchor="start" textLength="56" lengthAdjust="spacingAndGlyphs" stroke="#0b0d14" stroke-width="0.22">Nạp mẫu</text>
<text x="541" y="24.8" font-size="13.5" fill="#0b0d14" font-weight="normal" text-anchor="start" textLength="55" lengthAdjust="spacingAndGlyphs" stroke="#0b0d14" stroke-width="0.22">Lưu mẫu</text>
<g fill="none" stroke="#0b0d14" stroke-width="1.2"><path d="M1337.5,16.5 L1337.5,12.5 L1341.5,12.5 M1337.8,12.8 L1342.3,17.3"/><path d="M1352.5,16.5 L1352.5,12.5 L1348.5,12.5 M1352.2,12.8 L1347.7,17.3"/><path d="M1337.5,23.5 L1337.5,27.5 L1341.5,27.5 M1337.8,27.2 L1342.3,22.7"/><path d="M1352.5,23.5 L1352.5,27.5 L1348.5,27.5 M1352.2,27.2 L1347.7,22.7"/></g>
<text x="1412" y="24.8" font-size="13" fill="#22c322" font-weight="normal" text-anchor="start" textLength="28" lengthAdjust="spacingAndGlyphs">MUA</text>
<text x="1461" y="24.8" font-size="13" fill="#d0021b" font-weight="normal" text-anchor="start" textLength="24.5" lengthAdjust="spacingAndGlyphs">BÁN</text>
</svg>
<div class="tip"><i></i>
<svg width="200" height="121" viewBox="0 0 200 121">
<text x="26.4" y="26" font-size="12" font-weight="bold" fill="#444" textLength="97" lengthAdjust="spacingAndGlyphs">BCTC quý 3/2020</text>
<text x="26.4" y="47.2" font-size="12" fill="#6a6a6a" textLength="130.5" lengthAdjust="spacingAndGlyphs">DT: 202,3 tỷ, -77,9% (vs.</text>
<text x="26.4" y="65" font-size="12" fill="#6a6a6a" textLength="37.5" lengthAdjust="spacingAndGlyphs">Q3/19)</text>
<text x="26.4" y="83.4" font-size="12" fill="#6a6a6a" textLength="124.5" lengthAdjust="spacingAndGlyphs">LN: -20,8 tỷ, -119% (vs.</text>
<text x="26.4" y="101" font-size="12" fill="#6a6a6a" textLength="37.5" lengthAdjust="spacingAndGlyphs">Q3/19)</text>
</svg></div>
</body></html>
